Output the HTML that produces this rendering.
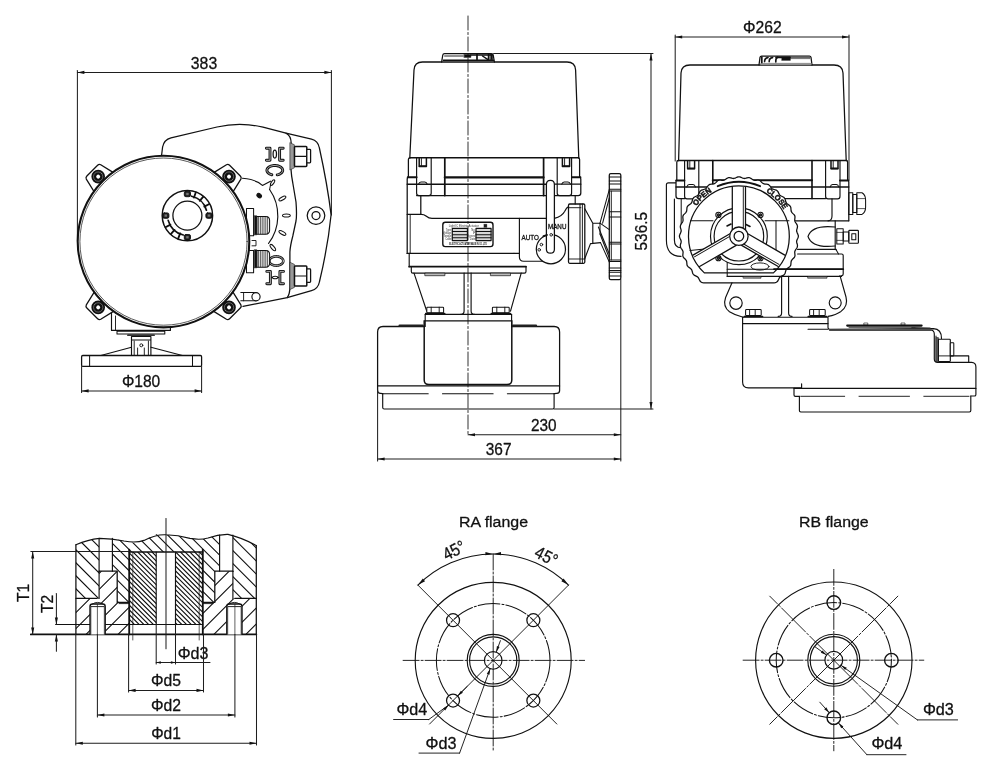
<!DOCTYPE html>
<html lang="en"><head><meta charset="utf-8"><title>Actuator dimensions</title>
<style>
html,body{margin:0;padding:0;background:#fff;}
body{width:1000px;height:776px;overflow:hidden;}
svg{display:block;filter:blur(0.35px);font-family:"Liberation Sans","Noto Sans CJK SC",sans-serif;}
svg *{stroke-linecap:round;stroke-linejoin:round;}
</style></head><body>
<svg width="1000" height="776" viewBox="0 0 1000 776">
<rect x="0" y="0" width="1000" height="776" fill="#fff" stroke="none"/>
<g id="view1">
<line x1="77.40" y1="70.50" x2="77.40" y2="241.00" stroke="#1e1e1e" stroke-width="1.03" />
<line x1="331.40" y1="70.50" x2="331.40" y2="215.00" stroke="#1e1e1e" stroke-width="1.03" />
<line x1="77.40" y1="72.40" x2="331.40" y2="72.40" stroke="#1e1e1e" stroke-width="1.03" />
<polygon points="77.40,72.40 84.40,70.85 84.40,73.95" fill="#111111"/>
<polygon points="331.40,72.40 324.40,73.95 324.40,70.85" fill="#111111"/>
<text x="204.00" y="69.00" font-size="17" text-anchor="middle" textLength="26.4" lengthAdjust="spacingAndGlyphs" fill="#111" stroke="#111" stroke-width="0.3" >383</text>
<path d="M161.5,156 L162.6,147 Q164,139.6 171,137.8 L217,127 Q240,121.6 263,127.2 L286,133.2 Q291,135.5 291.2,143 L290.9,168.4 Q291.5,177 292.8,183 L296,202 Q297,215 296,221 L292.8,236 Q290.2,246 289.9,252 L289.9,287 Q289.8,294.5 287.2,297.6 L243,306.3" stroke="#111111" stroke-width="1.26" fill="none" />
<path d="M286,133.2 L311.5,139.2 Q318,140.8 319.4,148 Q327.5,185 331.1,214.8 Q328,246 319.4,282 Q318,289 311.5,290.7 L287.2,297.6" stroke="#111111" stroke-width="1.26" fill="none" />
<circle cx="316.00" cy="215.60" r="8.80" stroke="#111111" stroke-width="1.26" fill="none" />
<circle cx="316.00" cy="215.60" r="4.00" stroke="#111111" stroke-width="1.26" fill="none" />
<path d="M290.2,142.8 L294.4,144.8 L294.4,167.8 L290.2,169.8 Z" stroke="#333" stroke-width="0.7" fill="#999" />
<rect x="294.50" y="146.40" width="12.30" height="20.00" rx="0.8" stroke="#111111" stroke-width="1.49" fill="#fff" />
<line x1="294.50" y1="156.40" x2="306.80" y2="156.40" stroke="#111111" stroke-width="1.15" />
<rect x="306.80" y="149.30" width="3.80" height="13.50" rx="0.8" stroke="#111111" stroke-width="1.26" fill="#fff" />
<path d="M290.2,262.4 L294.4,264.4 L294.4,287.4 L290.2,289.4 Z" stroke="#333" stroke-width="0.7" fill="#999" />
<rect x="294.50" y="266.00" width="12.30" height="20.00" rx="0.8" stroke="#111111" stroke-width="1.49" fill="#fff" />
<line x1="294.50" y1="276.00" x2="306.80" y2="276.00" stroke="#111111" stroke-width="1.15" />
<rect x="306.80" y="268.90" width="3.80" height="13.50" rx="0.8" stroke="#111111" stroke-width="1.26" fill="#fff" />
<path d="M266.4,148.2 L270,148.2 L270,160.3 L266.4,160.3" stroke="#111" stroke-width="2.9" fill="none" stroke-linecap="butt" stroke-linejoin="miter"/>
<path d="M266.4,148.2 L270,148.2 L270,160.3 L266.4,160.3" stroke="#fff" stroke-width="0.65" fill="none" stroke-linecap="butt" stroke-linejoin="miter"/>
<path d="M283.2,148.2 L279.6,148.2 L279.6,160.3 L283.2,160.3" stroke="#111" stroke-width="2.9" fill="none" stroke-linecap="butt" stroke-linejoin="miter"/>
<path d="M283.2,148.2 L279.6,148.2 L279.6,160.3 L283.2,160.3" stroke="#fff" stroke-width="0.65" fill="none" stroke-linecap="butt" stroke-linejoin="miter"/>
<ellipse cx="274.80" cy="154.10" rx="1.70" ry="4.00" stroke="#111111" stroke-width="1.26" fill="none" />
<path d="M271.84,174.75 L270.85,174.46 L269.94,174.08 L269.12,173.63 L268.41,173.12 L267.82,172.55 L267.38,171.94 L267.07,171.30 L266.92,170.63 L266.92,169.97 L267.07,169.30 L267.38,168.66 L267.82,168.05 L268.41,167.48 L269.12,166.97 L269.94,166.52 L270.85,166.14 L271.84,165.85 L272.89,165.64 L273.97,165.53 L275.08,165.50 L276.17,165.57 L277.24,165.73 L278.26,165.99 L279.22,166.32 L280.09,166.73 L280.85,167.21 L281.50,167.76 L282.02,168.35 L282.39,168.98 L282.62,169.63 L282.70,170.30 L282.62,170.97 L282.39,171.62 L282.02,172.25 L281.50,172.84 L280.85,173.39 L280.09,173.87 L279.22,174.28 L278.26,174.61 L277.24,174.87" stroke="#111" stroke-width="2.9" fill="none" stroke-linecap="butt" stroke-linejoin="miter"/>
<path d="M271.84,174.75 L270.85,174.46 L269.94,174.08 L269.12,173.63 L268.41,173.12 L267.82,172.55 L267.38,171.94 L267.07,171.30 L266.92,170.63 L266.92,169.97 L267.07,169.30 L267.38,168.66 L267.82,168.05 L268.41,167.48 L269.12,166.97 L269.94,166.52 L270.85,166.14 L271.84,165.85 L272.89,165.64 L273.97,165.53 L275.08,165.50 L276.17,165.57 L277.24,165.73 L278.26,165.99 L279.22,166.32 L280.09,166.73 L280.85,167.21 L281.50,167.76 L282.02,168.35 L282.39,168.98 L282.62,169.63 L282.70,170.30 L282.62,170.97 L282.39,171.62 L282.02,172.25 L281.50,172.84 L280.85,173.39 L280.09,173.87 L279.22,174.28 L278.26,174.61 L277.24,174.87" stroke="#fff" stroke-width="0.65" fill="none" stroke-linecap="butt" stroke-linejoin="miter"/>
<path d="M283.30,261.00 L283.21,261.72 L282.96,262.42 L282.54,263.09 L281.96,263.70 L281.25,264.25 L280.41,264.72 L279.48,265.10 L278.46,265.37 L277.40,265.54 L276.30,265.60 L275.20,265.54 L274.14,265.37 L273.12,265.10 L272.19,264.72 L271.35,264.25 L270.64,263.70 L270.06,263.09 L269.64,262.42 L269.39,261.72 L269.30,261.00 L269.39,260.28 L269.64,259.58 L270.06,258.91 L270.64,258.30 L271.35,257.75 L272.19,257.28 L273.12,256.90 L274.14,256.63 L275.20,256.46 L276.30,256.40 L277.40,256.46 L278.46,256.63 L279.48,256.90 L280.41,257.28 L281.25,257.75 L281.96,258.30 L282.54,258.91 L282.96,259.58 L283.21,260.28 L283.30,261.00 Z" stroke="#111" stroke-width="2.6" fill="none" stroke-linecap="butt" stroke-linejoin="miter"/>
<path d="M283.30,261.00 L283.21,261.72 L282.96,262.42 L282.54,263.09 L281.96,263.70 L281.25,264.25 L280.41,264.72 L279.48,265.10 L278.46,265.37 L277.40,265.54 L276.30,265.60 L275.20,265.54 L274.14,265.37 L273.12,265.10 L272.19,264.72 L271.35,264.25 L270.64,263.70 L270.06,263.09 L269.64,262.42 L269.39,261.72 L269.30,261.00 L269.39,260.28 L269.64,259.58 L270.06,258.91 L270.64,258.30 L271.35,257.75 L272.19,257.28 L273.12,256.90 L274.14,256.63 L275.20,256.46 L276.30,256.40 L277.40,256.46 L278.46,256.63 L279.48,256.90 L280.41,257.28 L281.25,257.75 L281.96,258.30 L282.54,258.91 L282.96,259.58 L283.21,260.28 L283.30,261.00 Z" stroke="#fff" stroke-width="0.65" fill="none" stroke-linecap="butt" stroke-linejoin="miter"/>
<path d="M266.8,271.4 L270.4,271.4 L270.4,283.7 L266.8,283.7" stroke="#111" stroke-width="2.9" fill="none" stroke-linecap="butt" stroke-linejoin="miter"/>
<path d="M266.8,271.4 L270.4,271.4 L270.4,283.7 L266.8,283.7" stroke="#fff" stroke-width="0.65" fill="none" stroke-linecap="butt" stroke-linejoin="miter"/>
<path d="M283.5,271.4 L279.9,271.4 L279.9,283.7 L283.5,283.7" stroke="#111" stroke-width="2.9" fill="none" stroke-linecap="butt" stroke-linejoin="miter"/>
<path d="M283.5,271.4 L279.9,271.4 L279.9,283.7 L283.5,283.7" stroke="#fff" stroke-width="0.65" fill="none" stroke-linecap="butt" stroke-linejoin="miter"/>
<ellipse cx="275.10" cy="277.50" rx="2.70" ry="1.30" stroke="#111111" stroke-width="1.03" fill="none" />
<line x1="271.60" y1="277.50" x2="272.40" y2="277.50" stroke="#111111" stroke-width="1.03" />
<line x1="277.80" y1="277.50" x2="278.70" y2="277.50" stroke="#111111" stroke-width="1.03" />
<path d="M242.5,178.3 Q255,179 262.4,185.4 L270.5,181.2" stroke="#111111" stroke-width="1.15" fill="none" />
<ellipse cx="272.60" cy="182.60" rx="3.20" ry="1.30" stroke="#111111" stroke-width="1.03" fill="none" transform="rotate(-55 272.6 182.6)"/>
<path d="M269.6,189.5 A46,46 0 0 1 268.5,243.5" stroke="#111111" stroke-width="1.15" fill="none" />
<line x1="269.60" y1="189.50" x2="270.60" y2="184.50" stroke="#111111" stroke-width="1.03" />
<ellipse cx="282.40" cy="198.50" rx="3.90" ry="1.50" stroke="#111111" stroke-width="1.03" fill="none" transform="rotate(-30 282.4 198.5)"/>
<ellipse cx="286.40" cy="215.60" rx="3.90" ry="1.50" stroke="#111111" stroke-width="1.03" fill="none" transform="rotate(0 286.4 215.6)"/>
<ellipse cx="282.40" cy="232.90" rx="3.90" ry="1.50" stroke="#111111" stroke-width="1.03" fill="none" transform="rotate(30 282.4 232.9)"/>
<ellipse cx="272.80" cy="247.60" rx="3.90" ry="1.50" stroke="#111111" stroke-width="1.03" fill="none" transform="rotate(50 272.8 247.6)"/>
<ellipse cx="259.20" cy="195.60" rx="2.60" ry="1.90" stroke="#111111" stroke-width="0.92" fill="#111111" transform="rotate(40 259.2 195.6)"/>
<rect x="246.50" y="208.40" width="7.10" height="27.40" rx="0" stroke="#111111" stroke-width="1.03" fill="none" />
<rect x="254.40" y="215.80" width="2.40" height="19.00" rx="0" stroke="#111111" stroke-width="0.6" fill="#111111" />
<path d="M257,216.4 L265.5,216.4 Q269.6,216.4 269.6,220.3 L269.6,230.3 Q269.6,234.2 265.5,234.2 L257,234.2 Z" stroke="#111111" stroke-width="1.03" fill="#fff" />
<line x1="258.60" y1="216.80" x2="258.60" y2="233.80" stroke="#111111" stroke-width="0.7" />
<line x1="260.40" y1="216.80" x2="260.40" y2="233.80" stroke="#111111" stroke-width="0.7" />
<line x1="262.20" y1="216.80" x2="262.20" y2="233.80" stroke="#111111" stroke-width="0.7" />
<line x1="264.00" y1="216.80" x2="264.00" y2="233.80" stroke="#111111" stroke-width="0.7" />
<line x1="265.80" y1="216.80" x2="265.80" y2="233.80" stroke="#111111" stroke-width="0.7" />
<line x1="267.60" y1="216.80" x2="267.60" y2="233.80" stroke="#111111" stroke-width="0.7" />
<rect x="246.50" y="250.40" width="7.10" height="22.40" rx="0" stroke="#111111" stroke-width="1.03" fill="none" />
<rect x="254.40" y="249.80" width="2.40" height="18.00" rx="0" stroke="#111111" stroke-width="0.6" fill="#111111" />
<path d="M257,250.4 L265.5,250.4 Q269.6,250.4 269.6,254.3 L269.6,263.3 Q269.6,267.2 265.5,267.2 L257,267.2 Z" stroke="#111111" stroke-width="1.03" fill="#fff" />
<line x1="258.60" y1="250.80" x2="258.60" y2="266.80" stroke="#111111" stroke-width="0.7" />
<line x1="260.40" y1="250.80" x2="260.40" y2="266.80" stroke="#111111" stroke-width="0.7" />
<line x1="262.20" y1="250.80" x2="262.20" y2="266.80" stroke="#111111" stroke-width="0.7" />
<line x1="264.00" y1="250.80" x2="264.00" y2="266.80" stroke="#111111" stroke-width="0.7" />
<line x1="265.80" y1="250.80" x2="265.80" y2="266.80" stroke="#111111" stroke-width="0.7" />
<line x1="267.60" y1="250.80" x2="267.60" y2="266.80" stroke="#111111" stroke-width="0.7" />
<path d="M252,240.5 L256,240.5 L256,245.8 L252,245.8" stroke="#111111" stroke-width="0.92" fill="none" />
<path d="M240.8,292.6 L256,292.6 M240.8,300.8 L256,300.8" stroke="#111111" stroke-width="1.03" fill="none" />
<circle cx="256.00" cy="296.70" r="4.10" stroke="#111111" stroke-width="1.15" fill="#fff" />
<line x1="243.60" y1="292.60" x2="243.60" y2="300.80" stroke="#111111" stroke-width="0.92" />
<g transform="translate(98.19 176.59) rotate(-45)">
<path d="M-13.6,8 L-10.2,-6.6 Q-9.6,-8.4 -7.6,-8.4 L7.6,-8.4 Q9.6,-8.4 10.2,-6.6 L13.6,8 Z" stroke="#111111" stroke-width="1.26" fill="#fff" />
<circle cx="0.00" cy="0.00" r="4.40" stroke="#111111" stroke-width="4.83" fill="#fff" />
<circle cx="0.00" cy="0.00" r="4.70" stroke="#aaa" stroke-width="0.5" fill="none" />
</g>
<g transform="translate(229.01 176.59) rotate(45)">
<path d="M-13.6,8 L-10.2,-6.6 Q-9.6,-8.4 -7.6,-8.4 L7.6,-8.4 Q9.6,-8.4 10.2,-6.6 L13.6,8 Z" stroke="#111111" stroke-width="1.26" fill="#fff" />
<circle cx="0.00" cy="0.00" r="4.40" stroke="#111111" stroke-width="4.83" fill="#fff" />
<circle cx="0.00" cy="0.00" r="4.70" stroke="#aaa" stroke-width="0.5" fill="none" />
</g>
<g transform="translate(229.01 307.41) rotate(135)">
<path d="M-13.6,8 L-10.2,-6.6 Q-9.6,-8.4 -7.6,-8.4 L7.6,-8.4 Q9.6,-8.4 10.2,-6.6 L13.6,8 Z" stroke="#111111" stroke-width="1.26" fill="#fff" />
<circle cx="0.00" cy="0.00" r="4.40" stroke="#111111" stroke-width="4.83" fill="#fff" />
<circle cx="0.00" cy="0.00" r="4.70" stroke="#aaa" stroke-width="0.5" fill="none" />
</g>
<g transform="translate(98.19 307.41) rotate(225)">
<path d="M-13.6,8 L-10.2,-6.6 Q-9.6,-8.4 -7.6,-8.4 L7.6,-8.4 Q9.6,-8.4 10.2,-6.6 L13.6,8 Z" stroke="#111111" stroke-width="1.26" fill="#fff" />
<circle cx="0.00" cy="0.00" r="4.40" stroke="#111111" stroke-width="4.83" fill="#fff" />
<circle cx="0.00" cy="0.00" r="4.70" stroke="#aaa" stroke-width="0.5" fill="none" />
</g>
<path d="M111.5,313 L111.5,330.4 L170.4,330.4 L170.4,326" stroke="#111111" stroke-width="1.15" fill="none" />
<line x1="115.50" y1="316.00" x2="115.50" y2="330.40" stroke="#111111" stroke-width="0.92" />
<circle cx="163.50" cy="241.60" r="85.80" stroke="#111111" stroke-width="2.07" fill="#fff" />
<circle cx="163.50" cy="241.60" r="83.60" stroke="#111111" stroke-width="0.7" fill="none" />
<circle cx="187.40" cy="215.60" r="25.20" stroke="#111111" stroke-width="1.49" fill="none" />
<circle cx="187.40" cy="215.60" r="14.50" stroke="#111111" stroke-width="1.26" fill="none" />
<rect x="184.30" y="191.30" width="6.20" height="5.40" rx="1.6" stroke="#111111" stroke-width="0.92" fill="#1a1a1a" />
<rect x="186.20" y="192.90" width="2.40" height="2.20" rx="0" stroke="#666" stroke-width="0.3" fill="#777" />
<rect x="205.90" y="212.90" width="6.20" height="5.40" rx="1.6" stroke="#111111" stroke-width="0.92" fill="#1a1a1a" />
<rect x="207.80" y="214.50" width="2.40" height="2.20" rx="0" stroke="#666" stroke-width="0.3" fill="#777" />
<rect x="184.30" y="234.50" width="6.20" height="5.40" rx="1.6" stroke="#111111" stroke-width="0.92" fill="#1a1a1a" />
<rect x="186.20" y="236.10" width="2.40" height="2.20" rx="0" stroke="#666" stroke-width="0.3" fill="#777" />
<rect x="162.70" y="212.90" width="6.20" height="5.40" rx="1.6" stroke="#111111" stroke-width="0.92" fill="#1a1a1a" />
<rect x="164.60" y="214.50" width="2.40" height="2.20" rx="0" stroke="#666" stroke-width="0.3" fill="#777" />
<path d="M191.52,196.23 A19.8,19.8 0 0 1 206.43,210.14" stroke="#111111" stroke-width="1.72" fill="none" />
<path d="M183.28,234.97 A19.8,19.8 0 0 1 168.19,220.39" stroke="#111111" stroke-width="1.72" fill="none" />
<line x1="193.97" y1="197.56" x2="195.88" y2="192.30" stroke="#111111" stroke-width="1.84" />
<line x1="199.74" y1="200.89" x2="203.34" y2="196.60" stroke="#111111" stroke-width="1.84" />
<line x1="204.35" y1="206.59" x2="209.30" y2="203.96" stroke="#111111" stroke-width="1.84" />
<line x1="180.21" y1="233.40" x2="178.11" y2="238.59" stroke="#111111" stroke-width="1.84" />
<line x1="174.55" y1="229.87" x2="170.81" y2="234.03" stroke="#111111" stroke-width="1.84" />
<line x1="170.45" y1="224.61" x2="165.50" y2="227.24" stroke="#111111" stroke-width="1.84" />
<path d="M117,331.2 L164.8,331.2 L164.8,334 L117,334 Z" stroke="#111111" stroke-width="1.03" fill="none" />
<line x1="128.00" y1="335.20" x2="154.00" y2="335.20" stroke="#333" stroke-width="1.84" />
<path d="M131.5,336.5 L150.9,336.5 L150.9,355.5 M131.5,336.5 L131.5,355.5 M131.5,340 L150.9,340" stroke="#111111" stroke-width="1.15" fill="none" />
<circle cx="141.30" cy="345.30" r="1.50" stroke="#111111" stroke-width="0.92" fill="none" />
<path d="M137.6,348 L137.6,355.5 M144.3,348 L144.3,355.5 M134.2,341 L134.2,355.5 M148.4,341 L148.4,355.5" stroke="#111111" stroke-width="0.92" fill="none" />
<path d="M100.8,355.5 L131.5,347.2 M182.4,355.5 L150.9,347.2" stroke="#111111" stroke-width="1.15" fill="none" />
<rect x="81.60" y="355.50" width="120.00" height="10.90" rx="1.2" stroke="#111111" stroke-width="1.26" fill="none" />
<line x1="89.60" y1="355.50" x2="89.60" y2="366.40" stroke="#111111" stroke-width="1.03" />
<line x1="192.50" y1="355.50" x2="192.50" y2="366.40" stroke="#111111" stroke-width="1.03" />
<line x1="81.60" y1="366.40" x2="81.60" y2="392.50" stroke="#1e1e1e" stroke-width="1.03" />
<line x1="201.60" y1="366.40" x2="201.60" y2="392.50" stroke="#1e1e1e" stroke-width="1.03" />
<line x1="81.60" y1="390.90" x2="201.60" y2="390.90" stroke="#1e1e1e" stroke-width="1.03" />
<polygon points="81.60,390.90 88.60,389.35 88.60,392.45" fill="#111111"/>
<polygon points="201.60,390.90 194.60,392.45 194.60,389.35" fill="#111111"/>
<text x="141.10" y="387.20" font-size="17" text-anchor="middle" textLength="38.4" lengthAdjust="spacingAndGlyphs" fill="#111" stroke="#111" stroke-width="0.3" >Φ180</text>
</g>
<g id="view2">
<line x1="468.00" y1="16.00" x2="468.00" y2="435.40" stroke="#1e1e1e" stroke-width="0.92" stroke-dasharray="14 2.5 2 2.5" stroke-linecap="butt"/>
<path d="M409.8,158 L414,70 Q414.4,62 422.5,62 L567,62 Q575.2,62 575.6,70 L578.8,158" stroke="#111111" stroke-width="1.26" fill="none" />
<path d="M441.6,62 L442.8,55 Q443,53.6 444.6,53.6 L491.4,53.6 Q493,53.6 493.2,55 L494.4,62" stroke="#111111" stroke-width="1.26" fill="none" />
<line x1="444.60" y1="56.00" x2="463.00" y2="56.00" stroke="#111111" stroke-width="0.92" />
<line x1="443.40" y1="60.20" x2="493.60" y2="60.20" stroke="#111111" stroke-width="1.49" />
<rect x="464.20" y="54.60" width="6.70" height="2.80" rx="0" stroke="#111111" stroke-width="0.5" fill="#111111" />
<path d="M471,55 L492,55" stroke="#111111" stroke-width="1.72" fill="none" />
<path d="M477,54.6 L477,59.6 M488.6,54.6 L488.6,59.6" stroke="#111111" stroke-width="1.72" fill="none" />
<path d="M482.5,56 L487.6,59.4" stroke="#111111" stroke-width="1.49" fill="none" />
<rect x="490.40" y="54.20" width="2.30" height="5.60" rx="0" stroke="#111111" stroke-width="0.4" fill="#111111" />
<line x1="410.00" y1="157.80" x2="578.40" y2="157.80" stroke="#111111" stroke-width="1.38" />
<path d="M410,157.8 Q408.4,157.8 408.4,159.6 L408.4,176.6 Q407.2,177.2 407.2,179 L407.2,253.4" stroke="#111111" stroke-width="1.26" fill="none" />
<line x1="407.80" y1="177.30" x2="416.60" y2="177.30" stroke="#111111" stroke-width="1.95" />
<path d="M578.4,157.8 Q579.6,157.8 579.6,159.6 L579.6,176.6 Q580.8,177.2 580.8,179 L580.8,193 Q580.8,195.6 578.2,195.6 L554.4,195.6" stroke="#111111" stroke-width="1.26" fill="none" />
<line x1="572.00" y1="177.30" x2="580.40" y2="177.30" stroke="#111111" stroke-width="1.95" />
<line x1="410.20" y1="214.40" x2="410.20" y2="253.40" stroke="#111111" stroke-width="0.92" />
<line x1="444.80" y1="177.40" x2="543.60" y2="177.40" stroke="#111111" stroke-width="2.07" />
<line x1="407.20" y1="184.20" x2="546.40" y2="184.20" stroke="#111111" stroke-width="1.38" />
<line x1="554.40" y1="184.20" x2="580.80" y2="184.20" stroke="#111111" stroke-width="1.26" />
<path d="M416.6,195.6 L546.4,195.6" stroke="#111111" stroke-width="1.26" fill="none" />
<path d="M407.2,214.4 L421.2,214.4 Q424,214.4 426,216 Q429,218.4 432,218.4 L546.4,218.4" stroke="#111111" stroke-width="1.26" fill="none" />
<line x1="420.80" y1="195.60" x2="420.80" y2="214.40" stroke="#111111" stroke-width="1.26" />
<line x1="408.40" y1="195.60" x2="408.40" y2="214.40" stroke="#111111" stroke-width="0.0" />
<line x1="407.20" y1="253.40" x2="514.00" y2="253.40" stroke="#111111" stroke-width="1.38" />
<line x1="444.80" y1="157.80" x2="444.80" y2="195.60" stroke="#111111" stroke-width="1.72" />
<line x1="543.60" y1="157.80" x2="543.60" y2="195.60" stroke="#111111" stroke-width="1.72" />
<path d="M416.6,157.8 L416.6,193.2 Q416.6,195.6 419.0,195.6 L428.8,195.6 Q431.2,195.6 431.2,193.2 L431.2,157.8" stroke="#111111" stroke-width="1.15" fill="none" />
<path d="M419.2,158.5 L419.2,166.6 L426.4,166.6 L426.4,158.5" stroke="#111111" stroke-width="1.49" fill="none" />
<line x1="421.40" y1="158.50" x2="421.40" y2="166.00" stroke="#111111" stroke-width="0.92" />
<line x1="419.70" y1="166.20" x2="425.90" y2="166.20" stroke="#111111" stroke-width="1.84" />
<path d="M418.59999999999997,184.2 Q419.2,182 421.0,182 L424.8,182 Q426.59999999999997,182 427.2,184.2" stroke="#111111" stroke-width="1.03" fill="none" />
<path d="M557.2,157.8 L557.2,193.2 Q557.2,195.6 559.6,195.6 L569.2,195.6 Q571.6,195.6 571.6,193.2 L571.6,157.8" stroke="#111111" stroke-width="1.15" fill="none" />
<path d="M562.4,158.5 L562.4,166.6 L569.6,166.6 L569.6,158.5" stroke="#111111" stroke-width="1.49" fill="none" />
<line x1="564.60" y1="158.50" x2="564.60" y2="166.00" stroke="#111111" stroke-width="0.92" />
<line x1="562.90" y1="166.20" x2="569.10" y2="166.20" stroke="#111111" stroke-width="1.84" />
<path d="M561.8,184.2 Q562.4,182 564.1999999999999,182 L568.0,182 Q569.8,182 570.4,184.2" stroke="#111111" stroke-width="1.03" fill="none" />
<line x1="575.20" y1="195.60" x2="575.20" y2="204.00" stroke="#111111" stroke-width="1.15" />
<rect x="442.80" y="222.30" width="50.20" height="24.30" rx="2.6" stroke="#111111" stroke-width="1.38" fill="none" />
<rect x="452.30" y="228.40" width="15.10" height="12.20" rx="0" stroke="#111111" stroke-width="1.15" fill="#d8d8d8" />
<line x1="452.30" y1="231.60" x2="467.40" y2="231.60" stroke="#111111" stroke-width="1.03" />
<line x1="452.30" y1="234.70" x2="467.40" y2="234.70" stroke="#111111" stroke-width="1.03" />
<line x1="452.30" y1="237.70" x2="467.40" y2="237.70" stroke="#111111" stroke-width="1.03" />
<rect x="476.00" y="228.40" width="15.10" height="12.20" rx="0" stroke="#111111" stroke-width="1.15" fill="#d8d8d8" />
<line x1="476.00" y1="231.60" x2="491.10" y2="231.60" stroke="#111111" stroke-width="1.03" />
<line x1="476.00" y1="234.70" x2="491.10" y2="234.70" stroke="#111111" stroke-width="1.03" />
<line x1="476.00" y1="237.70" x2="491.10" y2="237.70" stroke="#111111" stroke-width="1.03" />
<g font-size="2.7" fill="#333" stroke="none">
<text x="463.8" y="227" text-anchor="middle" font-size="3.1" textLength="30" lengthAdjust="spacingAndGlyphs">Light IC Electric Actuator</text>
<text x="451.6" y="230.90" text-anchor="end">Type</text><text x="475.4" y="230.90" text-anchor="end">No.</text>
<text x="451.6" y="233.95" text-anchor="end">Voltage</text><text x="475.4" y="233.95" text-anchor="end">IP</text>
<text x="451.6" y="237.00" text-anchor="end">Torque</text><text x="475.4" y="237.00" text-anchor="end">Speed</text>
<text x="451.6" y="240.05" text-anchor="end">Code</text><text x="475.4" y="240.05" text-anchor="end">Date</text>
<text x="468" y="244.6" text-anchor="middle" font-size="2.9" font-weight="bold" fill="#111" textLength="37.6" lengthAdjust="spacingAndGlyphs">ELECTRIC ACTUATOR MADE IN CO.,LTD</text>
</g>
<rect x="484.00" y="224.20" width="2.90" height="3.20" rx="0" stroke="#111111" stroke-width="0.3" fill="#222" />
<path d="M519.4,218.4 L519.4,257 Q519.4,261.2 523.6,261.2 L546,261.2 Q548,263.3 551,263.4" stroke="#111111" stroke-width="1.15" fill="none" />
<line x1="514.00" y1="253.40" x2="519.40" y2="253.40" stroke="#111111" stroke-width="1.15" />
<path d="M554.4,218.4 Q562,216.5 564.6,211.5 Q566.5,207.4 568.5,206.6" stroke="#111111" stroke-width="1.15" fill="none" />
<rect x="568.50" y="204.00" width="16.30" height="59.30" rx="1.2" stroke="#111111" stroke-width="1.26" fill="none" />
<line x1="580.00" y1="204.00" x2="580.00" y2="263.30" stroke="#111111" stroke-width="1.03" />
<line x1="582.40" y1="204.00" x2="582.40" y2="263.30" stroke="#111111" stroke-width="0.92" />
<line x1="568.50" y1="259.00" x2="584.80" y2="259.00" stroke="#111111" stroke-width="0.92" />
<circle cx="550.90" cy="249.20" r="14.60" stroke="#111111" stroke-width="1.26" fill="#fff" />
<path d="M546.4,184.4 Q546.4,180.3 550.4,180.3 Q554.4,180.3 554.4,184.4 L554.4,249.2 Q554.4,253.2 550.4,253.2 Q546.4,253.2 546.4,249.2 Z" stroke="#111111" stroke-width="1.26" fill="#fff" />
<circle cx="541.40" cy="244.60" r="1.30" stroke="#111111" stroke-width="0.92" fill="none" />
<circle cx="539.20" cy="249.80" r="1.30" stroke="#111111" stroke-width="0.92" fill="none" />
<circle cx="551.20" cy="234.80" r="1.30" stroke="#111111" stroke-width="0.92" fill="none" />
<line x1="543.50" y1="236.20" x2="547.00" y2="235.00" stroke="#111111" stroke-width="1.84" />
<text x="530.20" y="240.00" font-size="6.9" text-anchor="middle" textLength="17.3" lengthAdjust="spacingAndGlyphs" fill="#111" stroke="#111" stroke-width="0.3" >AUTO</text>
<text x="557.20" y="228.50" font-size="6.9" text-anchor="middle" textLength="18.4" lengthAdjust="spacingAndGlyphs" fill="#111" stroke="#111" stroke-width="0.3" >MANU</text>
<path d="M584.8,208.8 L592.8,223.2 L600,223.2 M584.8,258.5 L590.5,243.6 L600.5,242.6 M592.8,223.2 L592.8,242.8" stroke="#111111" stroke-width="1.15" fill="none" />
<path d="M609.3,175 Q609.3,173.6 610.8,173.6 L619.3,173.6 Q620.8,173.6 620.8,175 L620.8,278.2 Q620.8,279.6 619.3,279.6 L610.8,279.6 Q609.3,279.6 609.3,278.2 Z" stroke="#111111" stroke-width="1.26" fill="none" />
<line x1="609.30" y1="177.10" x2="620.80" y2="177.10" stroke="#111111" stroke-width="1.03" />
<line x1="609.30" y1="181.10" x2="620.80" y2="181.10" stroke="#111111" stroke-width="1.03" />
<line x1="609.30" y1="184.00" x2="620.80" y2="184.00" stroke="#111111" stroke-width="1.03" />
<line x1="609.30" y1="189.20" x2="620.80" y2="189.20" stroke="#111111" stroke-width="1.03" />
<line x1="609.30" y1="191.10" x2="620.80" y2="191.10" stroke="#111111" stroke-width="1.03" />
<line x1="609.30" y1="211.70" x2="620.80" y2="211.70" stroke="#111111" stroke-width="1.03" />
<line x1="609.30" y1="216.90" x2="620.80" y2="216.90" stroke="#111111" stroke-width="1.03" />
<line x1="609.30" y1="242.30" x2="620.80" y2="242.30" stroke="#111111" stroke-width="1.03" />
<line x1="609.30" y1="243.90" x2="620.80" y2="243.90" stroke="#111111" stroke-width="1.03" />
<line x1="609.30" y1="260.00" x2="620.80" y2="260.00" stroke="#111111" stroke-width="1.03" />
<line x1="609.30" y1="261.60" x2="620.80" y2="261.60" stroke="#111111" stroke-width="1.03" />
<line x1="609.30" y1="268.00" x2="620.80" y2="268.00" stroke="#111111" stroke-width="1.03" />
<line x1="609.30" y1="270.50" x2="620.80" y2="270.50" stroke="#111111" stroke-width="1.03" />
<line x1="609.30" y1="272.20" x2="620.80" y2="272.20" stroke="#111111" stroke-width="1.03" />
<line x1="609.30" y1="276.00" x2="620.80" y2="276.00" stroke="#111111" stroke-width="1.03" />
<line x1="611.30" y1="191.10" x2="611.30" y2="260.00" stroke="#111111" stroke-width="0.92" />
<line x1="568.50" y1="207.70" x2="580.90" y2="207.70" stroke="#111111" stroke-width="0.92" />
<path d="M609.3,189.6 L600,223.2 M609.3,198 L602.6,223.2" stroke="#111111" stroke-width="1.03" fill="none" />
<path d="M600,223.2 L609.3,229.6 M600.5,242.6 L609.3,262 M598.4,227 L609.3,254 M600,234 L609.3,258" stroke="#111111" stroke-width="1.03" fill="none" />
<line x1="600.00" y1="223.20" x2="600.00" y2="234.00" stroke="#111111" stroke-width="1.03" />
<line x1="409.20" y1="266.70" x2="526.00" y2="266.70" stroke="#111111" stroke-width="1.84" />
<path d="M409.2,253.4 L409.2,266.7 M526,266.7 L526,271.5 Q526,273.1 524.4,273.1 L412.8,273.1 Q411.3,273.1 411.3,271.5 L411.3,266.7" stroke="#111111" stroke-width="1.15" fill="none" />
<rect x="425.20" y="273.10" width="19.70" height="2.60" rx="0" stroke="#111111" stroke-width="0.7" fill="#bbb" />
<rect x="490.80" y="273.10" width="19.70" height="2.60" rx="0" stroke="#111111" stroke-width="0.7" fill="#bbb" />
<line x1="414.00" y1="273.10" x2="426.80" y2="311.20" stroke="#111111" stroke-width="1.15" />
<line x1="521.20" y1="273.10" x2="510.50" y2="311.20" stroke="#111111" stroke-width="1.15" />
<path d="M464.1,273.1 L464.1,311 Q464.1,314.4 460.7,314.4 M471.1,273.1 L471.1,311 Q471.1,314.4 474.5,314.4" stroke="#111111" stroke-width="1.15" fill="none" />
<rect x="426.80" y="307.20" width="16.80" height="5.60" rx="0.8" stroke="#111111" stroke-width="1.03" fill="#fff" />
<line x1="431.20" y1="307.20" x2="431.20" y2="312.80" stroke="#111111" stroke-width="0.92" />
<line x1="439.20" y1="307.20" x2="439.20" y2="312.80" stroke="#111111" stroke-width="0.92" />
<line x1="425.60" y1="313.40" x2="444.80" y2="313.40" stroke="#111111" stroke-width="1.38" />
<rect x="492.40" y="307.20" width="16.80" height="5.60" rx="0.8" stroke="#111111" stroke-width="1.03" fill="#fff" />
<line x1="496.80" y1="307.20" x2="496.80" y2="312.80" stroke="#111111" stroke-width="0.92" />
<line x1="504.80" y1="307.20" x2="504.80" y2="312.80" stroke="#111111" stroke-width="0.92" />
<line x1="491.20" y1="313.40" x2="510.40" y2="313.40" stroke="#111111" stroke-width="1.38" />
<path d="M425.2,314.4 L511.6,314.4 M425.2,320.8 L511.6,320.8" stroke="#111111" stroke-width="1.15" fill="none" />
<path d="M425.2,314.4 L425.2,326.4 M511.6,314.4 L511.6,326.4" stroke="#111111" stroke-width="1.15" fill="none" />
<path d="M424.2,320.8 L424.2,380 Q424.2,384.6 429,384.6 L507,384.6 Q511.8,384.6 511.8,380 L511.8,320.8" stroke="#111111" stroke-width="1.49" fill="none" />
<path d="M424.2,326.5 L383,326.5 Q377.6,326.5 377.6,332 L377.6,390.4 Q377.6,393.2 380.4,393.4 L382.7,393.6" stroke="#111111" stroke-width="1.26" fill="none" />
<path d="M511.8,326.5 L554.2,326.5 Q559.6,326.5 559.6,332 L559.6,390.4 Q559.6,393.2 556.8,393.4 L554.1,393.6" stroke="#111111" stroke-width="1.26" fill="none" />
<line x1="399.60" y1="325.70" x2="422.70" y2="325.70" stroke="#222" stroke-width="2.3" />
<line x1="513.00" y1="325.70" x2="536.00" y2="325.70" stroke="#222" stroke-width="2.3" />
<line x1="377.60" y1="385.90" x2="559.60" y2="385.90" stroke="#111111" stroke-width="1.15" />
<path d="M382.7,393.6 L382.7,407.5 Q382.7,409 384.2,409 L552.6,409 Q554.1,409 554.1,407.5 L554.1,393.6" stroke="#111111" stroke-width="1.15" fill="none" />
<line x1="382.70" y1="393.70" x2="553.60" y2="393.70" stroke="#111111" stroke-width="1.15" stroke-dasharray="45.5 14.3 50.6 14.3 46.2 100" stroke-linecap="butt"/>
<line x1="493.60" y1="53.60" x2="653.00" y2="53.60" stroke="#1e1e1e" stroke-width="1.03" />
<line x1="554.10" y1="409.00" x2="653.00" y2="409.00" stroke="#1e1e1e" stroke-width="1.03" />
<line x1="651.00" y1="53.60" x2="651.00" y2="409.00" stroke="#1e1e1e" stroke-width="1.03" />
<polygon points="651.00,53.60 652.55,60.60 649.45,60.60" fill="#111111"/>
<polygon points="651.00,409.00 649.45,402.00 652.55,402.00" fill="#111111"/>
<text x="646.90" y="231.20" font-size="17" text-anchor="middle" textLength="38.4" lengthAdjust="spacingAndGlyphs" transform="rotate(-90 646.90 231.20)" fill="#111" stroke="#111" stroke-width="0.3" >536.5</text>
<line x1="620.80" y1="279.60" x2="620.80" y2="461.00" stroke="#1e1e1e" stroke-width="1.03" />
<line x1="377.60" y1="390.00" x2="377.60" y2="461.00" stroke="#1e1e1e" stroke-width="1.03" />
<line x1="468.00" y1="434.80" x2="620.80" y2="434.80" stroke="#1e1e1e" stroke-width="1.03" />
<polygon points="468.00,434.80 475.00,433.25 475.00,436.35" fill="#111111"/>
<polygon points="620.80,434.80 613.80,436.35 613.80,433.25" fill="#111111"/>
<line x1="377.60" y1="459.00" x2="620.80" y2="459.00" stroke="#1e1e1e" stroke-width="1.03" />
<polygon points="377.60,459.00 384.60,457.45 384.60,460.55" fill="#111111"/>
<polygon points="620.80,459.00 613.80,460.55 613.80,457.45" fill="#111111"/>
<text x="543.70" y="431.00" font-size="17" text-anchor="middle" textLength="25.6" lengthAdjust="spacingAndGlyphs" fill="#111" stroke="#111" stroke-width="0.3" >230</text>
<text x="498.60" y="455.20" font-size="17" text-anchor="middle" textLength="25.8" lengthAdjust="spacingAndGlyphs" fill="#111" stroke="#111" stroke-width="0.3" >367</text>
</g>
<g id="view3">
<line x1="675.20" y1="35.00" x2="675.20" y2="161.00" stroke="#1e1e1e" stroke-width="1.03" />
<line x1="849.00" y1="35.00" x2="849.00" y2="180.00" stroke="#1e1e1e" stroke-width="1.03" />
<line x1="675.20" y1="37.00" x2="849.00" y2="37.00" stroke="#1e1e1e" stroke-width="1.03" />
<polygon points="675.20,37.00 682.20,35.45 682.20,38.55" fill="#111111"/>
<polygon points="849.00,37.00 842.00,38.55 842.00,35.45" fill="#111111"/>
<text x="762.30" y="33.00" font-size="17" text-anchor="middle" textLength="38.6" lengthAdjust="spacingAndGlyphs" fill="#111" stroke="#111" stroke-width="0.3" >Φ262</text>
<path d="M678.6,160.5 L681,73 Q681.5,65 690,65 L834,65 Q842.5,65 843,73 L846.2,160.5" stroke="#111111" stroke-width="1.26" fill="none" />
<path d="M759,65 L760,57.4 Q760.2,56.2 761.6,56.2 L809.4,56.2 Q810.8,56.2 811,57.4 L812,65" stroke="#111111" stroke-width="1.26" fill="none" />
<rect x="790.40" y="56.40" width="19.60" height="2.40" rx="0" stroke="#555" stroke-width="0.3" fill="#666" />
<rect x="760.40" y="63.00" width="51.00" height="1.90" rx="0" stroke="#777" stroke-width="0.2" fill="#999" />
<rect x="781.80" y="57.20" width="8.60" height="3.20" rx="0" stroke="#111111" stroke-width="0.4" fill="#111111" />
<line x1="776.00" y1="57.40" x2="790.00" y2="57.40" stroke="#111111" stroke-width="1.61" />
<path d="M761.8,57 L761.8,62.4" stroke="#111111" stroke-width="1.72" fill="none" />
<path d="M768,57.6 Q764.5,58 764.6,61.6 M772.6,57.6 Q769,58 769.2,61.6 M777.6,57.2 Q775.4,58.2 775.8,62" stroke="#111111" stroke-width="1.61" fill="none" />
<line x1="678.40" y1="160.50" x2="846.40" y2="160.50" stroke="#111111" stroke-width="1.38" />
<path d="M678.4,160.5 Q676.8,160.5 676.8,162.2 L676.8,179.8 Q676,180.4 676,182 L676,196 Q676,198.6 678.6,198.6 L684.8,198.6" stroke="#111111" stroke-width="1.26" fill="none" />
<line x1="676.20" y1="180.40" x2="684.40" y2="180.40" stroke="#111111" stroke-width="1.95" />
<path d="M846.4,160.5 Q847.6,160.5 847.6,162.2 L847.6,179.8 Q848.8,180.4 848.8,182 L848.8,220.8" stroke="#111111" stroke-width="1.26" fill="none" />
<line x1="840.00" y1="180.40" x2="848.40" y2="180.40" stroke="#111111" stroke-width="1.95" />
<line x1="712.80" y1="180.20" x2="812.00" y2="180.20" stroke="#111111" stroke-width="2.07" />
<line x1="676.00" y1="187.00" x2="848.80" y2="187.00" stroke="#111111" stroke-width="1.26" />
<line x1="698.40" y1="198.60" x2="825.60" y2="198.60" stroke="#111111" stroke-width="1.26" />
<line x1="712.80" y1="160.50" x2="712.80" y2="198.60" stroke="#111111" stroke-width="1.61" />
<line x1="812.00" y1="160.50" x2="812.00" y2="198.60" stroke="#111111" stroke-width="1.61" />
<line x1="681.20" y1="198.60" x2="681.20" y2="224.00" stroke="#111111" stroke-width="1.03" />
<path d="M684.6,160.5 L684.6,196.2 Q684.6,198.8 687.0,198.8 L696.4,198.8 Q698.8,198.8 698.8,196.2 L698.8,160.5" stroke="#111111" stroke-width="1.15" fill="none" />
<path d="M687.6,161 L687.6,168.8 L694.6,168.8 L694.6,161" stroke="#111111" stroke-width="1.49" fill="none" />
<line x1="689.80" y1="161.00" x2="689.80" y2="168.00" stroke="#111111" stroke-width="0.92" />
<line x1="688.10" y1="168.40" x2="694.10" y2="168.40" stroke="#111111" stroke-width="1.84" />
<path d="M686.8000000000001,187 Q687.4,184.6 689.2,184.6 L693.0,184.6 Q694.8000000000001,184.6 695.4,187" stroke="#111111" stroke-width="1.03" fill="none" />
<path d="M825.6,160.5 L825.6,196.2 Q825.6,198.8 828.0,198.8 L837.6,198.8 Q840,198.8 840,196.2 L840,160.5" stroke="#111111" stroke-width="1.15" fill="none" />
<path d="M831,161 L831,168.8 L838,168.8 L838,161" stroke="#111111" stroke-width="1.49" fill="none" />
<line x1="833.20" y1="161.00" x2="833.20" y2="168.00" stroke="#111111" stroke-width="0.92" />
<line x1="831.50" y1="168.40" x2="837.50" y2="168.40" stroke="#111111" stroke-width="1.84" />
<path d="M830.2,187 Q830.8,184.6 832.6,184.6 L836.4,184.6 Q838.2,184.6 838.8,187" stroke="#111111" stroke-width="1.03" fill="none" />
<path d="M832,198.8 L832,216 Q832,220.8 828,220.8" stroke="#111111" stroke-width="1.15" fill="none" />
<line x1="688.00" y1="220.80" x2="848.80" y2="220.80" stroke="#111111" stroke-width="1.15" />
<rect x="848.80" y="192.80" width="4.00" height="21.60" rx="0" stroke="#111111" stroke-width="1.03" fill="none" />
<rect x="852.80" y="194.60" width="4.00" height="18.00" rx="0" stroke="#111111" stroke-width="1.03" fill="none" />
<path d="M856.8,192.8 L862,192.8 Q865.6,195 865.6,200 L865.6,207.2 Q865.6,212.2 862,214.4 L856.8,214.4 Z" stroke="#111111" stroke-width="1.03" fill="none" />
<line x1="856.80" y1="198.60" x2="865.40" y2="198.60" stroke="#111111" stroke-width="0.7" />
<line x1="856.80" y1="208.60" x2="865.40" y2="208.60" stroke="#111111" stroke-width="0.7" />
<path d="M835.2,220.8 L835.2,249.6" stroke="#111111" stroke-width="1.15" fill="none" />
<path d="M835.2,227 Q812,224.5 808,236.5 Q812,248.5 835.2,246" stroke="#111111" stroke-width="1.15" fill="none" />
<rect x="836.80" y="228.80" width="6.40" height="15.20" rx="0" stroke="#111111" stroke-width="1.03" fill="none" />
<line x1="836.80" y1="232.40" x2="843.20" y2="232.40" stroke="#111111" stroke-width="0.7" />
<line x1="836.80" y1="240.40" x2="843.20" y2="240.40" stroke="#111111" stroke-width="0.7" />
<rect x="843.20" y="232.00" width="5.60" height="9.00" rx="0" stroke="#111111" stroke-width="1.03" fill="none" />
<rect x="848.80" y="230.40" width="9.60" height="12.80" rx="0.8" stroke="#111111" stroke-width="1.15" fill="none" />
<rect x="851.80" y="233.80" width="4.00" height="6.00" rx="0" stroke="#111111" stroke-width="1.03" fill="none" />
<path d="M797.6,249.4 L836,249.4 M797.6,254 L841.6,254 Q843.2,254 843.2,255.6 L843.2,274 Q843.2,275.6 841.6,275.6" stroke="#111111" stroke-width="1.15" fill="none" />
<path d="M836,249.4 L838.5,254" stroke="#111111" stroke-width="1.03" fill="none" />
<path d="M675.6,182.8 L668.4,182.8 Q666.4,182.8 666.4,184.8 L666.4,240 Q666.4,256.4 681,256.4" stroke="#111111" stroke-width="1.15" fill="none" />
<path d="M674.4,199 L674.4,240 Q674.4,247.6 681,247.8" stroke="#111111" stroke-width="1.15" fill="none" />
<line x1="688.00" y1="220.80" x2="720.00" y2="220.80" stroke="#111111" stroke-width="1.15" />
<line x1="776.00" y1="220.80" x2="776.00" y2="250.00" stroke="#111111" stroke-width="1.03" />
<line x1="690.00" y1="250.40" x2="706.00" y2="248.60" stroke="#111111" stroke-width="1.03" />
<path d="M738.9,176.8 L739.9,176.9 L741.0,177.3 L742.0,177.8 L743.0,178.2 L744.0,178.5 L745.0,178.4 L746.0,178.2 L747.1,177.8 L748.2,177.6 L749.2,177.7 L750.2,178.0 L751.2,178.6 L752.1,179.2 L753.0,179.8 L753.9,180.2 L754.9,180.4 L756.0,180.3 L757.1,180.2 L758.2,180.1 L759.2,180.3 L760.2,180.8 L761.0,181.6 L761.7,182.4 L762.5,183.1 L763.4,183.7 L764.4,184.0 L765.4,184.1 L766.6,184.2 L767.7,184.3 L768.6,184.7 L769.4,185.4 L770.1,186.2 L770.7,187.2 L771.4,188.0 L772.1,188.7 L773.0,189.2 L774.1,189.5 L775.2,189.8 L776.2,190.1 L777.1,190.7 L777.8,191.4 L778.3,192.4 L778.8,193.4 L779.3,194.4 L779.9,195.2 L780.7,195.8 L781.7,196.3 L782.7,196.8 L783.7,197.3 L784.4,198.0 L785.0,198.9 L785.3,199.9 L785.6,201.0 L785.9,202.1 L786.4,203.0 L787.1,203.7 L787.9,204.4 L788.9,205.0 L789.7,205.7 L790.4,206.5 L790.8,207.4 L790.9,208.5 L791.0,209.7 L791.1,210.7 L791.4,211.7 L792.0,212.6 L792.7,213.4 L793.5,214.1 L794.3,214.9 L794.8,215.9 L795.0,216.9 L794.9,218.0 L794.8,219.1 L794.7,220.2 L794.9,221.2 L795.3,222.1 L795.9,223.0 L796.5,223.9 L797.1,224.9 L797.4,225.9 L797.5,226.9 L797.3,228.0 L796.9,229.1 L796.7,230.1 L796.6,231.1 L796.9,232.1 L797.3,233.1 L797.8,234.1 L798.2,235.2 L798.4,236.2 L798.2,237.2 L797.8,238.3 L797.3,239.3 L796.9,240.3 L796.6,241.3 L796.7,242.3 L796.9,243.3 L797.3,244.4 L797.5,245.5 L797.4,246.5 L797.1,247.5 L796.5,248.5 L795.9,249.4 L795.3,250.3 L794.9,251.2 L794.7,252.2 L794.8,253.3 L794.9,254.4 L795.0,255.5 L794.8,256.5 L794.3,257.5 L793.5,258.3 L792.7,259.0 L792.0,259.8 L791.4,260.7 L791.1,261.7 L791.0,262.7 L790.9,263.9 L790.8,265.0 L790.4,265.9 L789.7,266.7 L788.9,267.4 L787.9,268.0 L787.1,268.7 L786.4,269.4 L785.9,270.3 L785.6,271.4 L785.3,272.5 L785.0,273.5 L784.4,274.4 L783.7,275.1 L782.7,275.6 L781.7,276.1 L780.7,276.6 L779.9,277.2 L779.3,278.0 L778.8,279.0 L778.3,280.0 L777.8,281.0 L777.1,281.7 L776.2,282.3 L775.2,282.6 L774.1,282.8 L773.0,282.8 L772.1,282.8 L771.4,282.8 L770.7,282.8 L770.1,282.8 L769.4,282.8 L768.6,282.8 L767.7,282.8 L766.6,282.8 L765.4,282.8 L764.4,282.8 L763.4,282.8 L762.5,282.8 L761.7,282.8 L761.0,282.8 L760.2,282.8 L759.2,282.8 L758.2,282.8 L757.1,282.8 L756.0,282.8 L754.9,282.8 L753.9,282.8 L753.0,282.8 L752.1,282.8 L751.2,282.8 L750.2,282.8 L749.2,282.8 L748.2,282.8 L747.1,282.8 L746.0,282.8 L745.0,282.8 L744.0,282.8 L743.0,282.8 L742.0,282.8 L741.0,282.8 L739.9,282.8 L738.9,282.8 L737.9,282.8 L736.8,282.8 L735.8,282.8 L734.8,282.8 L733.8,282.8 L732.8,282.8 L731.8,282.8 L730.7,282.8 L729.6,282.8 L728.6,282.8 L727.6,282.8 L726.6,282.8 L725.7,282.8 L724.8,282.8 L723.9,282.8 L722.9,282.8 L721.8,282.8 L720.7,282.8 L719.6,282.8 L718.6,282.8 L717.6,282.8 L716.8,282.8 L716.1,282.8 L715.3,282.8 L714.4,282.8 L713.4,282.8 L712.4,282.8 L711.2,282.8 L710.1,282.8 L709.2,282.8 L708.4,282.8 L707.7,282.8 L707.1,282.8 L706.4,282.8 L705.7,282.8 L704.8,282.8 L703.7,282.8 L702.6,282.6 L701.6,282.3 L700.7,281.7 L700.0,281.0 L699.5,280.0 L699.0,279.0 L698.5,278.0 L697.9,277.2 L697.1,276.6 L696.1,276.1 L695.1,275.6 L694.1,275.1 L693.4,274.4 L692.8,273.5 L692.5,272.5 L692.2,271.4 L691.9,270.3 L691.4,269.4 L690.7,268.7 L689.9,268.0 L688.9,267.4 L688.1,266.7 L687.4,265.9 L687.0,265.0 L686.9,263.9 L686.8,262.7 L686.7,261.7 L686.4,260.7 L685.8,259.8 L685.1,259.0 L684.3,258.3 L683.5,257.5 L683.0,256.5 L682.8,255.5 L682.9,254.4 L683.0,253.3 L683.1,252.2 L682.9,251.2 L682.5,250.3 L681.9,249.4 L681.3,248.5 L680.7,247.5 L680.4,246.5 L680.3,245.5 L680.5,244.4 L680.9,243.3 L681.1,242.3 L681.2,241.3 L680.9,240.3 L680.5,239.3 L680.0,238.3 L679.6,237.2 L679.4,236.2 L679.6,235.2 L680.0,234.1 L680.5,233.1 L680.9,232.1 L681.2,231.1 L681.1,230.1 L680.9,229.1 L680.5,228.0 L680.3,226.9 L680.4,225.9 L680.7,224.9 L681.3,223.9 L681.9,223.0 L682.5,222.1 L682.9,221.2 L683.1,220.2 L683.0,219.1 L682.9,218.0 L682.8,216.9 L683.0,215.9 L683.5,214.9 L684.3,214.1 L685.1,213.4 L685.8,212.6 L686.4,211.7 L686.7,210.7 L686.8,209.7 L686.9,208.5 L687.0,207.4 L687.4,206.5 L688.1,205.7 L688.9,205.0 L689.9,204.4 L690.7,203.7 L691.4,203.0 L691.9,202.1 L692.2,201.0 L692.5,199.9 L692.8,198.9 L693.4,198.0 L694.1,197.3 L695.1,196.8 L696.1,196.3 L697.1,195.8 L697.9,195.2 L698.5,194.4 L699.0,193.4 L699.5,192.4 L700.0,191.4 L700.7,190.7 L701.6,190.1 L702.6,189.8 L703.7,189.5 L704.8,189.2 L705.7,188.7 L706.4,188.0 L707.1,187.2 L707.7,186.2 L708.4,185.4 L709.2,184.7 L710.1,184.3 L711.2,184.2 L712.4,184.1 L713.4,184.0 L714.4,183.7 L715.3,183.1 L716.1,182.4 L716.8,181.6 L717.6,180.8 L718.6,180.3 L719.6,180.1 L720.7,180.2 L721.8,180.3 L722.9,180.4 L723.9,180.2 L724.8,179.8 L725.7,179.2 L726.6,178.6 L727.6,178.0 L728.6,177.7 L729.6,177.6 L730.7,177.8 L731.8,178.2 L732.8,178.4 L733.8,178.5 L734.8,178.2 L735.8,177.8 L736.8,177.3 L737.9,176.9 L738.9,176.8 Z" stroke="#111111" stroke-width="1.26" fill="#fff" />
<path d="M704.36,272.90 A50.4,50.4 0 1 1 773.44,272.90 Z" stroke="#111111" stroke-width="1.26" fill="#fff" />
<line x1="690.50" y1="220.80" x2="713.00" y2="220.80" stroke="#111111" stroke-width="1.03" />
<line x1="765.00" y1="220.80" x2="789.00" y2="220.80" stroke="#111111" stroke-width="1.03" />
<line x1="776.00" y1="220.80" x2="776.00" y2="262.00" stroke="#111111" stroke-width="1.03" />
<line x1="690.00" y1="250.60" x2="712.00" y2="248.20" stroke="#111111" stroke-width="1.03" />
<circle cx="738.90" cy="236.20" r="28.40" stroke="#111111" stroke-width="1.15" fill="none" />
<circle cx="738.90" cy="236.20" r="24.80" stroke="#111111" stroke-width="1.15" fill="none" />
<circle cx="718.40" cy="214.90" r="2.60" stroke="#111111" stroke-width="1.03" fill="none" />
<circle cx="718.40" cy="214.90" r="1.20" stroke="#111111" stroke-width="1.03" fill="#444" />
<circle cx="760.50" cy="214.90" r="2.60" stroke="#111111" stroke-width="1.03" fill="none" />
<circle cx="760.50" cy="214.90" r="1.20" stroke="#111111" stroke-width="1.03" fill="#444" />
<circle cx="718.40" cy="258.20" r="2.60" stroke="#111111" stroke-width="1.03" fill="none" />
<circle cx="718.40" cy="258.20" r="1.20" stroke="#111111" stroke-width="1.03" fill="#444" />
<circle cx="760.50" cy="258.20" r="2.60" stroke="#111111" stroke-width="1.03" fill="none" />
<circle cx="760.50" cy="258.20" r="1.20" stroke="#111111" stroke-width="1.03" fill="#444" />
<path d="M727,226 L731,224 M746,224.5 L750,226.5" stroke="#111111" stroke-width="1.61" fill="none" />
<ellipse cx="760.00" cy="266.50" rx="9.00" ry="3.60" stroke="#111111" stroke-width="0.92" fill="none" />
<path d="M717.68,186.22 A54.3,54.3 0 0 1 760.12,186.22" stroke="#111111" stroke-width="1.84" fill="none" />
<path id="rimtxt" d="M686.90,236.20 A52.0,52.0 0 0 1 790.90,236.20" fill="none" stroke="none"/>
<text font-size="7.6" font-weight="bold" fill="#111" stroke="#111" stroke-width="0.45" text-anchor="middle"><textPath href="#rimtxt" startOffset="42.6" textLength="21.5" lengthAdjust="spacingAndGlyphs">OPEN</textPath></text>
<text font-size="7.6" font-weight="bold" fill="#111" stroke="#111" stroke-width="0.45" text-anchor="middle"><textPath href="#rimtxt" startOffset="122.6" textLength="25.5" lengthAdjust="spacingAndGlyphs">CLOSE</textPath></text>
<g transform="rotate(0 738.9 236.2)">
<path d="M732.3,187.0 L732.3,230.2 L745.5,230.2 L745.5,187.0" stroke="#111111" stroke-width="1.26" fill="#fff" />
<line x1="743.30" y1="187.40" x2="743.30" y2="228.20" stroke="#111111" stroke-width="0.92" />
</g>
<g transform="rotate(120 738.9 236.2)">
<path d="M732.3,187.0 L732.3,230.2 L745.5,230.2 L745.5,187.0" stroke="#111111" stroke-width="1.26" fill="#fff" />
<line x1="743.30" y1="187.40" x2="743.30" y2="228.20" stroke="#111111" stroke-width="0.92" />
</g>
<g transform="rotate(240 738.9 236.2)">
<path d="M732.3,187.0 L732.3,230.2 L745.5,230.2 L745.5,187.0" stroke="#111111" stroke-width="1.26" fill="#fff" />
<line x1="743.30" y1="187.40" x2="743.30" y2="228.20" stroke="#111111" stroke-width="0.92" />
</g>
<circle cx="738.90" cy="236.20" r="9.20" stroke="#111111" stroke-width="1.26" fill="#fff" />
<circle cx="738.90" cy="236.20" r="4.80" stroke="#111111" stroke-width="1.26" fill="#fff" />
<path d="M727.2,269.2 L843.2,269.2" stroke="#111111" stroke-width="1.15" fill="none" />
<path d="M774,269.2 L843.2,269.2" stroke="#111111" stroke-width="1.84" fill="none" />
<path d="M727.2,276.4 L841.6,276.4" stroke="#111111" stroke-width="1.15" fill="none" />
<line x1="727.20" y1="262.50" x2="727.20" y2="276.40" stroke="#111111" stroke-width="1.03" />
<rect x="743.50" y="276.60" width="17.50" height="1.60" rx="0" stroke="#111111" stroke-width="0.6" fill="#aaa" />
<rect x="808.00" y="276.60" width="19.00" height="1.60" rx="0" stroke="#111111" stroke-width="0.6" fill="#aaa" />
<path d="M732,282.8 L725.6,297.5 Q722.5,306.5 729.5,311.8 Q735,315.4 743.2,317.2" stroke="#111111" stroke-width="1.15" fill="none" />
<circle cx="736.00" cy="303.10" r="6.20" stroke="#111111" stroke-width="1.15" fill="none" />
<path d="M840,275.6 L846,297 Q848.4,306 841,311.4 Q836,314.8 828,316.4" stroke="#111111" stroke-width="1.15" fill="none" />
<circle cx="835.20" cy="302.80" r="6.00" stroke="#111111" stroke-width="1.15" fill="none" />
<path d="M781.6,276.4 L781.6,313 Q781.6,316.4 778.2,316.4 M788.6,276.4 L788.6,313 Q788.6,316.4 792,316.4" stroke="#111111" stroke-width="1.15" fill="none" />
<line x1="782.20" y1="276.40" x2="782.20" y2="316.00" stroke="#111111" stroke-width="0.0" />
<rect x="745.60" y="309.60" width="15.60" height="6.00" rx="0.8" stroke="#111111" stroke-width="1.03" fill="#fff" />
<line x1="749.60" y1="309.60" x2="749.60" y2="315.60" stroke="#111111" stroke-width="0.92" />
<line x1="755.20" y1="309.60" x2="755.20" y2="315.60" stroke="#111111" stroke-width="0.92" />
<line x1="744.20" y1="316.60" x2="762.60" y2="316.60" stroke="#111111" stroke-width="1.49" />
<rect x="809.60" y="309.60" width="15.60" height="6.00" rx="0.8" stroke="#111111" stroke-width="1.03" fill="#fff" />
<line x1="813.60" y1="309.60" x2="813.60" y2="315.60" stroke="#111111" stroke-width="0.92" />
<line x1="819.20" y1="309.60" x2="819.20" y2="315.60" stroke="#111111" stroke-width="0.92" />
<line x1="808.20" y1="316.60" x2="826.60" y2="316.60" stroke="#111111" stroke-width="1.49" />
<path d="M742.6,317.2 L828,317.2 L828,327.6 Q828,329.2 829.6,329.2 L933.5,328.6 Q941.5,329 941.5,338.4" stroke="#111111" stroke-width="1.15" fill="none" />
<line x1="742.60" y1="323.60" x2="828.00" y2="323.60" stroke="#111111" stroke-width="1.15" />
<line x1="808.00" y1="329.20" x2="828.00" y2="329.20" stroke="#111111" stroke-width="1.03" />
<path d="M742.6,317.2 L742.6,382 Q742.6,387.8 748.4,387.8 L801.6,387.8 L801.6,383.7" stroke="#111111" stroke-width="1.15" fill="none" />
<line x1="847.20" y1="325.60" x2="921.60" y2="325.60" stroke="#111111" stroke-width="2.18" />
<line x1="849.00" y1="327.60" x2="915.00" y2="327.60" stroke="#111111" stroke-width="0.7" />
<rect x="864.20" y="323.00" width="3.60" height="2.00" rx="0" stroke="#111111" stroke-width="0.6" fill="none" />
<rect x="901.40" y="323.00" width="3.60" height="2.00" rx="0" stroke="#111111" stroke-width="0.6" fill="none" />
<line x1="912.00" y1="327.80" x2="930.00" y2="328.20" stroke="#333" stroke-width="1.61" />
<path d="M829.6,330.2 L930.5,330 Q934.3,330.2 934.3,334 L934.3,359 Q934.3,362.4 937.6,362.4 L971.6,362.4 Q975.9,362.6 975.9,367 L975.9,394.4 Q975.9,396 974.4,396 L970.8,396" stroke="#111111" stroke-width="1.15" fill="none" />
<line x1="936.00" y1="336.00" x2="936.00" y2="361.40" stroke="#111111" stroke-width="1.03" />
<rect x="936.60" y="337.60" width="1.80" height="23.90" rx="0" stroke="#111111" stroke-width="0.6" fill="#666" />
<rect x="938.40" y="339.20" width="11.90" height="22.30" rx="0.8" stroke="#111111" stroke-width="1.15" fill="#fff" />
<line x1="938.40" y1="355.90" x2="950.30" y2="355.90" stroke="#111111" stroke-width="0.92" />
<rect x="950.30" y="342.80" width="3.50" height="13.10" rx="0.6" stroke="#111111" stroke-width="1.03" fill="#fff" />
<path d="M950.3,355.9 L968.7,355.9 L968.7,362.4" stroke="#111111" stroke-width="1.15" fill="none" />
<line x1="794.00" y1="388.40" x2="975.90" y2="388.40" stroke="#111111" stroke-width="1.15" />
<path d="M794,388.4 L794,395 Q794,396.4 795.4,396.4 L799.4,396.4" stroke="#111111" stroke-width="1.15" fill="none" />
<path d="M799.4,396.4 L799.4,410.6 Q799.4,412 800.8,412 L969.4,412 Q970.8,412 970.8,410.6 L970.8,396" stroke="#111111" stroke-width="1.15" fill="none" />
<line x1="800.70" y1="396.30" x2="969.00" y2="396.30" stroke="#111111" stroke-width="0.92" stroke-dasharray="44 14.3 50.5 14.3 45.2 100" stroke-linecap="butt"/>
</g>
<g id="sect">
<clipPath id="hc1"><path d="M75.9,544.8 Q88,539.6 99.1,538.4 L99.1,598.4 L75.9,598.4 Z M256.3,545.6 Q242,537.6 232.9,535.4 L232.9,598.4 L256.3,598.4 Z" clip-rule="evenodd"/></clipPath>
<g clip-path="url(#hc1)" stroke="#111" stroke-width="1.1" stroke-linecap="butt">
<line x1="167.39" y1="420.08" x2="330.92" y2="583.61"/>
<line x1="160.88" y1="426.58" x2="324.42" y2="590.12"/>
<line x1="154.38" y1="433.09" x2="317.91" y2="596.62"/>
<line x1="147.87" y1="439.59" x2="311.41" y2="603.13"/>
<line x1="141.37" y1="446.10" x2="304.90" y2="609.63"/>
<line x1="134.86" y1="452.60" x2="298.40" y2="616.14"/>
<line x1="128.35" y1="459.11" x2="291.89" y2="622.65"/>
<line x1="121.85" y1="465.61" x2="285.39" y2="629.15"/>
<line x1="115.34" y1="472.12" x2="278.88" y2="635.66"/>
<line x1="108.84" y1="478.62" x2="272.38" y2="642.16"/>
<line x1="102.33" y1="485.13" x2="265.87" y2="648.67"/>
<line x1="95.83" y1="491.63" x2="259.37" y2="655.17"/>
<line x1="89.32" y1="498.14" x2="252.86" y2="661.68"/>
<line x1="82.82" y1="504.65" x2="246.35" y2="668.18"/>
<line x1="76.31" y1="511.15" x2="239.85" y2="674.69"/>
<line x1="69.81" y1="517.66" x2="233.34" y2="681.19"/>
<line x1="63.30" y1="524.16" x2="226.84" y2="687.70"/>
<line x1="56.80" y1="530.67" x2="220.33" y2="694.20"/>
<line x1="50.29" y1="537.17" x2="213.83" y2="700.71"/>
<line x1="43.78" y1="543.68" x2="207.32" y2="707.22"/>
<line x1="37.28" y1="550.18" x2="200.82" y2="713.72"/>
<line x1="30.77" y1="556.69" x2="194.31" y2="720.23"/>
<line x1="24.27" y1="563.19" x2="187.81" y2="726.73"/>
<line x1="17.76" y1="569.70" x2="181.30" y2="733.24"/>
<line x1="11.26" y1="576.20" x2="174.80" y2="739.74"/>
<line x1="4.75" y1="582.71" x2="168.29" y2="746.25"/>
</g>
<clipPath id="hc2"><path d="M112.4,538.6 Q124,541 136,543.2 Q144,540.4 156,534.2 Q161,534.4 166,534.8 Q178,535.2 190,538.4 Q200,540.2 208,538 Q214,535.6 219.6,534.8 L219.6,571.2 L214.8,571.2 L214.8,602.4 L202.8,602.4 L202.8,552 L129.2,552 L129.2,602.4 L117.2,602.4 L117.2,571.2 L112.4,571.2 Z" clip-rule="evenodd"/></clipPath>
<g clip-path="url(#hc2)" stroke="#111" stroke-width="1.1" stroke-linecap="butt">
<line x1="168.38" y1="419.09" x2="331.91" y2="582.62"/>
<line x1="163.07" y1="424.39" x2="326.61" y2="587.93"/>
<line x1="157.77" y1="429.69" x2="321.31" y2="593.23"/>
<line x1="152.47" y1="435.00" x2="316.00" y2="598.53"/>
<line x1="147.16" y1="440.30" x2="310.70" y2="603.84"/>
<line x1="141.86" y1="445.60" x2="305.40" y2="609.14"/>
<line x1="136.56" y1="450.90" x2="300.10" y2="614.44"/>
<line x1="131.25" y1="456.21" x2="294.79" y2="619.75"/>
<line x1="125.95" y1="461.51" x2="289.49" y2="625.05"/>
<line x1="120.65" y1="466.81" x2="284.19" y2="630.35"/>
<line x1="115.34" y1="472.12" x2="278.88" y2="635.66"/>
<line x1="110.04" y1="477.42" x2="273.58" y2="640.96"/>
<line x1="104.74" y1="482.72" x2="268.28" y2="646.26"/>
<line x1="99.43" y1="488.03" x2="262.97" y2="651.57"/>
<line x1="94.13" y1="493.33" x2="257.67" y2="656.87"/>
<line x1="88.83" y1="498.63" x2="252.37" y2="662.17"/>
<line x1="83.52" y1="503.94" x2="247.06" y2="667.48"/>
<line x1="78.22" y1="509.24" x2="241.76" y2="672.78"/>
<line x1="72.92" y1="514.54" x2="236.46" y2="678.08"/>
<line x1="67.61" y1="519.85" x2="231.15" y2="683.39"/>
<line x1="62.31" y1="525.15" x2="225.85" y2="688.69"/>
<line x1="57.01" y1="530.45" x2="220.55" y2="693.99"/>
<line x1="51.70" y1="535.76" x2="215.24" y2="699.30"/>
<line x1="46.40" y1="541.06" x2="209.94" y2="704.60"/>
<line x1="41.10" y1="546.36" x2="204.64" y2="709.90"/>
<line x1="35.79" y1="551.67" x2="199.33" y2="715.21"/>
<line x1="30.49" y1="556.97" x2="194.03" y2="720.51"/>
<line x1="25.19" y1="562.27" x2="188.73" y2="725.81"/>
<line x1="19.88" y1="567.58" x2="183.42" y2="731.12"/>
<line x1="14.58" y1="572.88" x2="178.12" y2="736.42"/>
<line x1="9.28" y1="578.18" x2="172.82" y2="741.72"/>
<line x1="3.97" y1="583.49" x2="167.51" y2="747.03"/>
</g>
<clipPath id="hc3"><path d="M75.9,598.4 L99.1,598.4 L99.1,571.2 L117.2,571.2 L117.2,602.4 L129.2,602.4 L129.2,634.4 L105.2,634.4 L105.2,606 L90,606 L90,634.4 L75.9,634.4 Z M256.3,598.4 L232.9,598.4 L232.9,571.2 L214.8,571.2 L214.8,602.4 L202.8,602.4 L202.8,634.4 L226.8,634.4 L226.8,606 L242,606 L242,634.4 L256.3,634.4 Z" clip-rule="evenodd"/></clipPath>
<g clip-path="url(#hc3)" stroke="#111" stroke-width="1.1" stroke-linecap="butt">
<line x1="-2.96" y1="579.58" x2="160.58" y2="416.04"/>
<line x1="5.03" y1="587.57" x2="168.57" y2="424.03"/>
<line x1="13.03" y1="595.56" x2="176.56" y2="432.03"/>
<line x1="21.02" y1="603.55" x2="184.55" y2="440.02"/>
<line x1="29.01" y1="611.54" x2="192.54" y2="448.01"/>
<line x1="37.00" y1="619.53" x2="200.53" y2="456.00"/>
<line x1="44.99" y1="627.52" x2="208.52" y2="463.99"/>
<line x1="52.98" y1="635.52" x2="216.52" y2="471.98"/>
<line x1="60.97" y1="643.51" x2="224.51" y2="479.97"/>
<line x1="68.96" y1="651.50" x2="232.50" y2="487.96"/>
<line x1="76.95" y1="659.49" x2="240.49" y2="495.95"/>
<line x1="84.94" y1="667.48" x2="248.48" y2="503.94"/>
<line x1="92.93" y1="675.47" x2="256.47" y2="511.93"/>
<line x1="100.92" y1="683.46" x2="264.46" y2="519.92"/>
<line x1="108.91" y1="691.45" x2="272.45" y2="527.91"/>
<line x1="116.90" y1="699.44" x2="280.44" y2="535.90"/>
<line x1="124.89" y1="707.43" x2="288.43" y2="543.89"/>
<line x1="132.88" y1="715.42" x2="296.42" y2="551.88"/>
<line x1="140.87" y1="723.41" x2="304.41" y2="559.87"/>
<line x1="148.86" y1="731.40" x2="312.40" y2="567.86"/>
<line x1="156.85" y1="739.39" x2="320.39" y2="575.85"/>
<line x1="164.84" y1="747.38" x2="328.38" y2="583.84"/>
</g>
<clipPath id="hc4"><path d="M129.4,552 H156.4 V624.5 H129.4 Z M175.5,552 H202.6 V624.5 H175.5 Z" clip-rule="evenodd"/></clipPath>
<g clip-path="url(#hc4)" stroke="#111" stroke-width="1.15" stroke-linecap="butt">
<line x1="167.14" y1="420.32" x2="330.68" y2="583.86"/>
<line x1="164.77" y1="422.69" x2="328.31" y2="586.23"/>
<line x1="162.40" y1="425.06" x2="325.94" y2="588.60"/>
<line x1="160.03" y1="427.43" x2="323.57" y2="590.97"/>
<line x1="157.66" y1="429.80" x2="321.20" y2="593.34"/>
<line x1="155.30" y1="432.17" x2="318.83" y2="595.70"/>
<line x1="152.93" y1="434.54" x2="316.46" y2="598.07"/>
<line x1="150.56" y1="436.90" x2="314.10" y2="600.44"/>
<line x1="148.19" y1="439.27" x2="311.73" y2="602.81"/>
<line x1="145.82" y1="441.64" x2="309.36" y2="605.18"/>
<line x1="143.45" y1="444.01" x2="306.99" y2="607.55"/>
<line x1="141.08" y1="446.38" x2="304.62" y2="609.92"/>
<line x1="138.71" y1="448.75" x2="302.25" y2="612.29"/>
<line x1="136.34" y1="451.12" x2="299.88" y2="614.66"/>
<line x1="133.98" y1="453.49" x2="297.51" y2="617.02"/>
<line x1="131.61" y1="455.85" x2="295.15" y2="619.39"/>
<line x1="129.24" y1="458.22" x2="292.78" y2="621.76"/>
<line x1="126.87" y1="460.59" x2="290.41" y2="624.13"/>
<line x1="124.50" y1="462.96" x2="288.04" y2="626.50"/>
<line x1="122.13" y1="465.33" x2="285.67" y2="628.87"/>
<line x1="119.76" y1="467.70" x2="283.30" y2="631.24"/>
<line x1="117.39" y1="470.07" x2="280.93" y2="633.61"/>
<line x1="115.03" y1="472.44" x2="278.56" y2="635.97"/>
<line x1="112.66" y1="474.81" x2="276.19" y2="638.34"/>
<line x1="110.29" y1="477.17" x2="273.83" y2="640.71"/>
<line x1="107.92" y1="479.54" x2="271.46" y2="643.08"/>
<line x1="105.55" y1="481.91" x2="269.09" y2="645.45"/>
<line x1="103.18" y1="484.28" x2="266.72" y2="647.82"/>
<line x1="100.81" y1="486.65" x2="264.35" y2="650.19"/>
<line x1="98.44" y1="489.02" x2="261.98" y2="652.56"/>
<line x1="96.07" y1="491.39" x2="259.61" y2="654.93"/>
<line x1="93.71" y1="493.76" x2="257.24" y2="657.29"/>
<line x1="91.34" y1="496.12" x2="254.88" y2="659.66"/>
<line x1="88.97" y1="498.49" x2="252.51" y2="662.03"/>
<line x1="86.60" y1="500.86" x2="250.14" y2="664.40"/>
<line x1="84.23" y1="503.23" x2="247.77" y2="666.77"/>
<line x1="81.86" y1="505.60" x2="245.40" y2="669.14"/>
<line x1="79.49" y1="507.97" x2="243.03" y2="671.51"/>
<line x1="77.12" y1="510.34" x2="240.66" y2="673.88"/>
<line x1="74.76" y1="512.71" x2="238.29" y2="676.24"/>
<line x1="72.39" y1="515.07" x2="235.93" y2="678.61"/>
<line x1="70.02" y1="517.44" x2="233.56" y2="680.98"/>
<line x1="67.65" y1="519.81" x2="231.19" y2="683.35"/>
<line x1="65.28" y1="522.18" x2="228.82" y2="685.72"/>
<line x1="62.91" y1="524.55" x2="226.45" y2="688.09"/>
<line x1="60.54" y1="526.92" x2="224.08" y2="690.46"/>
<line x1="58.17" y1="529.29" x2="221.71" y2="692.83"/>
<line x1="55.81" y1="531.66" x2="219.34" y2="695.19"/>
<line x1="53.44" y1="534.03" x2="216.97" y2="697.56"/>
<line x1="51.07" y1="536.39" x2="214.61" y2="699.93"/>
<line x1="48.70" y1="538.76" x2="212.24" y2="702.30"/>
<line x1="46.33" y1="541.13" x2="209.87" y2="704.67"/>
<line x1="43.96" y1="543.50" x2="207.50" y2="707.04"/>
<line x1="41.59" y1="545.87" x2="205.13" y2="709.41"/>
<line x1="39.22" y1="548.24" x2="202.76" y2="711.78"/>
<line x1="36.85" y1="550.61" x2="200.39" y2="714.15"/>
<line x1="34.49" y1="552.98" x2="198.02" y2="716.51"/>
<line x1="32.12" y1="555.34" x2="195.66" y2="718.88"/>
<line x1="29.75" y1="557.71" x2="193.29" y2="721.25"/>
<line x1="27.38" y1="560.08" x2="190.92" y2="723.62"/>
<line x1="25.01" y1="562.45" x2="188.55" y2="725.99"/>
<line x1="22.64" y1="564.82" x2="186.18" y2="728.36"/>
<line x1="20.27" y1="567.19" x2="183.81" y2="730.73"/>
<line x1="17.90" y1="569.56" x2="181.44" y2="733.10"/>
<line x1="15.54" y1="571.93" x2="179.07" y2="735.46"/>
<line x1="13.17" y1="574.30" x2="176.70" y2="737.83"/>
<line x1="10.80" y1="576.66" x2="174.34" y2="740.20"/>
<line x1="8.43" y1="579.03" x2="171.97" y2="742.57"/>
<line x1="6.06" y1="581.40" x2="169.60" y2="744.94"/>
<line x1="3.69" y1="583.77" x2="167.23" y2="747.31"/>
</g>
<path d="M75.9,544.8 Q88,539.6 99.6,538.4 Q112,538.4 124,541 Q136,543.2 144,540.4 Q156,534.2 166,534.8 Q178,535.2 190,538.4 Q200,540.2 208,538 Q218,534.2 228,534.4 Q242,537.6 256.3,545.6" stroke="#111111" stroke-width="1.15" fill="none" />
<line x1="75.90" y1="544.80" x2="75.90" y2="634.40" stroke="#111111" stroke-width="1.26" />
<line x1="256.30" y1="545.60" x2="256.30" y2="634.40" stroke="#111111" stroke-width="1.26" />
<line x1="30.80" y1="634.40" x2="256.30" y2="634.40" stroke="#111111" stroke-width="1.72" />
<line x1="99.10" y1="538.40" x2="99.10" y2="571.20" stroke="#111111" stroke-width="1.15" />
<line x1="232.90" y1="535.00" x2="232.90" y2="571.20" stroke="#111111" stroke-width="1.15" />
<line x1="112.40" y1="538.40" x2="112.40" y2="571.20" stroke="#111111" stroke-width="1.15" />
<line x1="219.60" y1="535.00" x2="219.60" y2="571.20" stroke="#111111" stroke-width="1.15" />
<path d="M99.1,571.2 L117.2,571.2 L117.2,602.4 L129.2,602.4" stroke="#111111" stroke-width="1.26" fill="none" />
<path d="M232.9,571.2 L214.8,571.2 L214.8,602.4 L202.8,602.4" stroke="#111111" stroke-width="1.26" fill="none" />
<line x1="99.10" y1="571.20" x2="99.10" y2="598.40" stroke="#111111" stroke-width="1.15" />
<line x1="232.90" y1="571.20" x2="232.90" y2="598.40" stroke="#111111" stroke-width="1.15" />
<line x1="75.90" y1="598.40" x2="97.20" y2="598.40" stroke="#111111" stroke-width="1.15" />
<line x1="256.30" y1="598.40" x2="234.80" y2="598.40" stroke="#111111" stroke-width="1.15" />
<line x1="119.00" y1="603.60" x2="129.20" y2="603.60" stroke="#111111" stroke-width="0.92" />
<line x1="213.00" y1="603.60" x2="202.80" y2="603.60" stroke="#111111" stroke-width="0.92" />
<line x1="129.20" y1="549.60" x2="129.20" y2="634.40" stroke="#111111" stroke-width="1.84" />
<line x1="202.80" y1="549.60" x2="202.80" y2="634.40" stroke="#111111" stroke-width="1.84" />
<line x1="132.80" y1="552.00" x2="132.80" y2="640.00" stroke="#1e1e1e" stroke-width="0.7" />
<line x1="199.20" y1="552.00" x2="199.20" y2="640.00" stroke="#1e1e1e" stroke-width="0.7" />
<line x1="129.20" y1="552.00" x2="202.80" y2="552.00" stroke="#111111" stroke-width="1.38" />
<line x1="156.20" y1="552.00" x2="156.20" y2="624.50" stroke="#111111" stroke-width="1.15" />
<line x1="175.50" y1="552.00" x2="175.50" y2="624.50" stroke="#111111" stroke-width="1.15" />
<line x1="55.60" y1="624.50" x2="202.80" y2="624.50" stroke="#111111" stroke-width="1.03" />
<path d="M90.0,634.4 L90.0,606.4 Q90.0,604 92.4,604 L102.8,604 Q105.2,604 105.2,606.4 L105.2,634.4" stroke="#111111" stroke-width="1.38" fill="#fff" />
<path d="M91.2,606.6 L104.0,606.6 M92.4,604 Q97.6,600.6 102.8,604" stroke="#111111" stroke-width="0.92" fill="none" />
<line x1="90.90" y1="607.00" x2="90.90" y2="634.00" stroke="#111111" stroke-width="0.6" />
<line x1="104.30" y1="607.00" x2="104.30" y2="634.00" stroke="#111111" stroke-width="0.6" />
<path d="M226.8,634.4 L226.8,606.4 Q226.8,604 229.20000000000002,604 L239.60000000000002,604 Q242.0,604 242.0,606.4 L242.0,634.4" stroke="#111111" stroke-width="1.38" fill="#fff" />
<path d="M228.0,606.6 L240.8,606.6 M229.20000000000002,604 Q234.4,600.6 239.60000000000002,604" stroke="#111111" stroke-width="0.92" fill="none" />
<line x1="227.70" y1="607.00" x2="227.70" y2="634.00" stroke="#111111" stroke-width="0.6" />
<line x1="241.10" y1="607.00" x2="241.10" y2="634.00" stroke="#111111" stroke-width="0.6" />
<line x1="166.00" y1="518.40" x2="166.00" y2="648.80" stroke="#1e1e1e" stroke-width="1.03" />
<line x1="30.80" y1="551.50" x2="131.00" y2="551.50" stroke="#1e1e1e" stroke-width="1.03" />
<line x1="32.70" y1="551.50" x2="32.70" y2="634.40" stroke="#1e1e1e" stroke-width="1.03" />
<polygon points="32.70,551.50 34.25,558.50 31.15,558.50" fill="#111111"/>
<polygon points="32.70,634.40 31.15,627.40 34.25,627.40" fill="#111111"/>
<text x="29.20" y="592.80" font-size="17" text-anchor="middle" textLength="18.2" lengthAdjust="spacingAndGlyphs" transform="rotate(-90 29.20 592.80)" fill="#111" stroke="#111" stroke-width="0.3" >T1</text>
<line x1="56.40" y1="593.60" x2="56.40" y2="624.50" stroke="#1e1e1e" stroke-width="1.03" />
<polygon points="56.40,624.50 54.85,617.50 57.95,617.50" fill="#111111"/>
<line x1="56.40" y1="634.40" x2="56.40" y2="651.20" stroke="#1e1e1e" stroke-width="1.03" />
<polygon points="56.40,634.40 57.95,641.40 54.85,641.40" fill="#111111"/>
<text x="53.20" y="604.00" font-size="17" text-anchor="middle" textLength="18.2" lengthAdjust="spacingAndGlyphs" transform="rotate(-90 53.20 604.00)" fill="#111" stroke="#111" stroke-width="0.3" >T2</text>
<line x1="156.20" y1="624.50" x2="156.20" y2="664.00" stroke="#1e1e1e" stroke-width="1.03" />
<line x1="175.50" y1="624.50" x2="175.50" y2="664.00" stroke="#1e1e1e" stroke-width="1.03" />
<line x1="156.20" y1="662.50" x2="210.00" y2="662.50" stroke="#1e1e1e" stroke-width="1.03" />
<polygon points="156.20,662.50 160.80,661.30 160.80,663.70" fill="#111111"/>
<polygon points="175.50,662.50 170.90,663.70 170.90,661.30" fill="#111111"/>
<text x="193.10" y="659.20" font-size="17" text-anchor="middle" textLength="30.8" lengthAdjust="spacingAndGlyphs" fill="#111" stroke="#111" stroke-width="0.3" >Φd3</text>
<line x1="128.60" y1="634.40" x2="128.60" y2="692.00" stroke="#1e1e1e" stroke-width="1.03" />
<line x1="203.50" y1="634.40" x2="203.50" y2="692.00" stroke="#1e1e1e" stroke-width="1.03" />
<line x1="128.60" y1="690.40" x2="203.50" y2="690.40" stroke="#1e1e1e" stroke-width="1.03" />
<polygon points="128.60,690.40 135.60,688.85 135.60,691.95" fill="#111111"/>
<polygon points="203.50,690.40 196.50,691.95 196.50,688.85" fill="#111111"/>
<text x="166.00" y="686.00" font-size="17" text-anchor="middle" textLength="30" lengthAdjust="spacingAndGlyphs" fill="#111" stroke="#111" stroke-width="0.3" >Φd5</text>
<line x1="97.40" y1="634.40" x2="97.40" y2="717.00" stroke="#1e1e1e" stroke-width="1.03" />
<line x1="234.90" y1="634.40" x2="234.90" y2="717.00" stroke="#1e1e1e" stroke-width="1.03" />
<line x1="97.40" y1="604.00" x2="97.40" y2="634.40" stroke="#1e1e1e" stroke-width="0.7" />
<line x1="234.90" y1="604.00" x2="234.90" y2="634.40" stroke="#1e1e1e" stroke-width="0.7" />
<line x1="97.40" y1="715.00" x2="234.90" y2="715.00" stroke="#1e1e1e" stroke-width="1.03" />
<polygon points="97.40,715.00 104.40,713.45 104.40,716.55" fill="#111111"/>
<polygon points="234.90,715.00 227.90,716.55 227.90,713.45" fill="#111111"/>
<text x="166.00" y="710.90" font-size="17" text-anchor="middle" textLength="30" lengthAdjust="spacingAndGlyphs" fill="#111" stroke="#111" stroke-width="0.3" >Φd2</text>
<line x1="75.80" y1="634.40" x2="75.80" y2="745.00" stroke="#1e1e1e" stroke-width="1.03" />
<line x1="256.50" y1="634.40" x2="256.50" y2="745.00" stroke="#1e1e1e" stroke-width="1.03" />
<line x1="75.80" y1="743.20" x2="256.50" y2="743.20" stroke="#1e1e1e" stroke-width="1.03" />
<polygon points="75.80,743.20 82.80,741.65 82.80,744.75" fill="#111111"/>
<polygon points="256.50,743.20 249.50,744.75 249.50,741.65" fill="#111111"/>
<text x="166.00" y="739.30" font-size="17" text-anchor="middle" textLength="29.7" lengthAdjust="spacingAndGlyphs" fill="#111" stroke="#111" stroke-width="0.3" >Φd1</text>
</g>
<g id="flanges">
<text x="493.50" y="527.40" font-size="15.3" text-anchor="middle" textLength="69" lengthAdjust="spacingAndGlyphs" fill="#111" stroke="#111" stroke-width="0.3" >RA flange</text>
<circle cx="493.20" cy="660.40" r="78.00" stroke="#111111" stroke-width="1.15" fill="none" />
<circle cx="493.20" cy="660.40" r="56.80" stroke="#111111" stroke-width="1.03" fill="none" stroke-dasharray="22 2 2 2" stroke-linecap="butt"/>
<circle cx="493.20" cy="660.40" r="26.00" stroke="#111111" stroke-width="1.15" fill="none" />
<circle cx="493.20" cy="660.40" r="23.60" stroke="#111111" stroke-width="1.15" fill="none" />
<circle cx="493.20" cy="660.40" r="8.80" stroke="#111111" stroke-width="1.15" fill="none" />
<line x1="403.10" y1="660.40" x2="584.60" y2="660.40" stroke="#111111" stroke-width="0.92" stroke-dasharray="16 2 2 2" stroke-linecap="butt"/>
<line x1="493.20" y1="554.00" x2="493.20" y2="750.90" stroke="#111111" stroke-width="0.92" stroke-dasharray="16 2 2 2" stroke-linecap="butt"/>
<line x1="493.20" y1="660.40" x2="417.89" y2="585.09" stroke="#111111" stroke-width="0.92" />
<line x1="493.20" y1="660.40" x2="568.51" y2="585.09" stroke="#111111" stroke-width="0.92" />
<line x1="493.20" y1="660.40" x2="429.56" y2="724.04" stroke="#111111" stroke-width="0.92" />
<line x1="493.20" y1="660.40" x2="556.84" y2="724.04" stroke="#111111" stroke-width="0.92" />
<circle cx="453.04" cy="620.24" r="6.50" stroke="#111111" stroke-width="1.26" fill="none" />
<circle cx="533.36" cy="620.24" r="6.50" stroke="#111111" stroke-width="1.26" fill="none" />
<circle cx="533.36" cy="700.56" r="6.50" stroke="#111111" stroke-width="1.26" fill="none" />
<circle cx="453.04" cy="700.56" r="6.50" stroke="#111111" stroke-width="1.26" fill="none" />
<path d="M417.89,585.09 A106.5,106.5 0 0 1 568.51,585.09" stroke="#111111" stroke-width="1.03" fill="none" />
<polygon points="417.89,585.09 422.82,578.56 425.05,581.13" fill="#111111"/>
<polygon points="568.51,585.09 561.35,581.13 563.58,578.56" fill="#111111"/>
<polygon points="492.90,553.90 485.35,555.34 485.46,551.94" fill="#111111"/>
<polygon points="493.50,553.90 500.94,551.94 501.05,555.34" fill="#111111"/>
<text x="456.80" y="555.60" font-size="17.5" text-anchor="middle" textLength="23" lengthAdjust="spacingAndGlyphs" transform="rotate(-27 456.80 555.60)" fill="#111" stroke="#111" stroke-width="0.3" >45°</text>
<text x="543.60" y="561.60" font-size="17.5" text-anchor="middle" textLength="23" lengthAdjust="spacingAndGlyphs" transform="rotate(27 543.60 561.60)" fill="#111" stroke="#111" stroke-width="0.3" >45°</text>
<line x1="393.60" y1="719.50" x2="428.80" y2="719.50" stroke="#111111" stroke-width="0.92" />
<line x1="428.80" y1="719.50" x2="448.44" y2="705.16" stroke="#111111" stroke-width="0.92" />
<polygon points="448.44,705.16 445.19,710.39 443.21,708.41" fill="#111111"/>
<line x1="457.63" y1="695.97" x2="467.18" y2="686.42" stroke="#111111" stroke-width="0.92" />
<polygon points="457.63,695.97 460.89,690.73 462.87,692.71" fill="#111111"/>
<text x="411.90" y="715.30" font-size="17" text-anchor="middle" textLength="30.8" lengthAdjust="spacingAndGlyphs" fill="#111" stroke="#111" stroke-width="0.3" >Φd4</text>
<line x1="419.00" y1="753.10" x2="459.60" y2="753.10" stroke="#111111" stroke-width="0.92" />
<line x1="459.60" y1="753.10" x2="490.19" y2="668.67" stroke="#111111" stroke-width="0.92" />
<polygon points="490.19,668.67 489.45,674.78 486.82,673.83" fill="#111111"/>
<line x1="496.21" y1="652.13" x2="500.39" y2="640.67" stroke="#111111" stroke-width="0.92" />
<polygon points="496.21,652.13 496.95,646.02 499.58,646.97" fill="#111111"/>
<text x="441.00" y="748.70" font-size="17" text-anchor="middle" textLength="31" lengthAdjust="spacingAndGlyphs" fill="#111" stroke="#111" stroke-width="0.3" >Φd3</text>
<text x="833.80" y="527.40" font-size="15.3" text-anchor="middle" textLength="69.7" lengthAdjust="spacingAndGlyphs" fill="#111" stroke="#111" stroke-width="0.3" >RB flange</text>
<circle cx="833.80" cy="660.20" r="78.20" stroke="#111111" stroke-width="1.15" fill="none" />
<circle cx="833.80" cy="660.20" r="57.60" stroke="#111111" stroke-width="1.03" fill="none" stroke-dasharray="22 2 2 2" stroke-linecap="butt"/>
<circle cx="833.80" cy="660.20" r="26.00" stroke="#111111" stroke-width="1.15" fill="none" />
<circle cx="833.80" cy="660.20" r="23.60" stroke="#111111" stroke-width="1.15" fill="none" />
<circle cx="833.80" cy="660.20" r="8.90" stroke="#111111" stroke-width="1.15" fill="none" />
<line x1="743.10" y1="660.20" x2="923.80" y2="660.20" stroke="#111111" stroke-width="0.92" stroke-dasharray="16 2 2 2" stroke-linecap="butt"/>
<line x1="833.80" y1="569.40" x2="833.80" y2="750.80" stroke="#111111" stroke-width="0.92" stroke-dasharray="16 2 2 2" stroke-linecap="butt"/>
<line x1="833.80" y1="660.20" x2="769.74" y2="596.14" stroke="#111111" stroke-width="0.92" stroke-dasharray="34 2 2 2" stroke-linecap="butt"/>
<line x1="833.80" y1="660.20" x2="897.86" y2="596.14" stroke="#111111" stroke-width="0.92" stroke-dasharray="34 2 2 2" stroke-linecap="butt"/>
<line x1="833.80" y1="660.20" x2="897.86" y2="724.26" stroke="#111111" stroke-width="0.92" stroke-dasharray="34 2 2 2" stroke-linecap="butt"/>
<line x1="833.80" y1="660.20" x2="769.74" y2="724.26" stroke="#111111" stroke-width="0.92" stroke-dasharray="34 2 2 2" stroke-linecap="butt"/>
<circle cx="833.80" cy="602.60" r="6.80" stroke="#111111" stroke-width="1.38" fill="none" />
<circle cx="891.40" cy="660.20" r="6.80" stroke="#111111" stroke-width="1.38" fill="none" />
<circle cx="833.80" cy="717.80" r="6.80" stroke="#111111" stroke-width="1.38" fill="none" />
<circle cx="776.20" cy="660.20" r="6.80" stroke="#111111" stroke-width="1.38" fill="none" />
<line x1="917.40" y1="719.90" x2="957.60" y2="719.90" stroke="#111111" stroke-width="0.92" />
<line x1="917.40" y1="719.90" x2="841.04" y2="665.37" stroke="#111111" stroke-width="0.92" />
<polygon points="841.04,665.37 846.74,667.72 845.11,670.00" fill="#111111"/>
<line x1="826.56" y1="655.03" x2="814.27" y2="646.25" stroke="#111111" stroke-width="0.92" />
<polygon points="826.56,655.03 820.86,652.68 822.49,650.40" fill="#111111"/>
<text x="938.40" y="714.50" font-size="17" text-anchor="middle" textLength="31" lengthAdjust="spacingAndGlyphs" fill="#111" stroke="#111" stroke-width="0.3" >Φd3</text>
<line x1="866.90" y1="754.70" x2="906.00" y2="754.70" stroke="#111111" stroke-width="0.92" />
<line x1="866.90" y1="754.70" x2="838.34" y2="722.86" stroke="#111111" stroke-width="0.92" />
<polygon points="838.34,722.86 843.39,726.39 841.30,728.26" fill="#111111"/>
<line x1="829.26" y1="712.74" x2="819.78" y2="702.17" stroke="#111111" stroke-width="0.92" />
<polygon points="829.26,712.74 824.21,709.21 826.30,707.34" fill="#111111"/>
<text x="886.90" y="749.00" font-size="17" text-anchor="middle" textLength="31" lengthAdjust="spacingAndGlyphs" fill="#111" stroke="#111" stroke-width="0.3" >Φd4</text>
</g>
</svg>
</body></html>
